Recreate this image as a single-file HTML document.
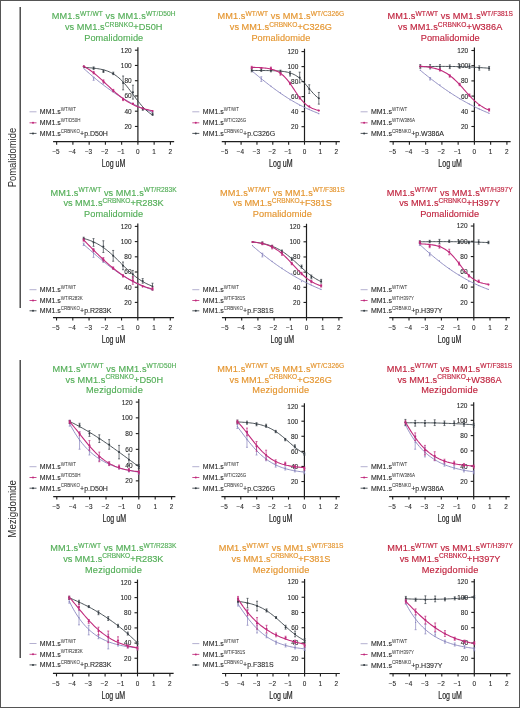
<!DOCTYPE html>
<html><head><meta charset="utf-8"><style>
html,body{margin:0;padding:0;background:#fff;}
svg{display:block;font-family:"Liberation Sans", sans-serif;will-change:transform;}
text.k{stroke:#222;stroke-width:0.22px;}
text.k2{stroke:#222;stroke-width:0.1px;}
</style></head><body>
<svg width="520" height="708" viewBox="0 0 520 708"><g>
<rect x="0.5" y="0.5" width="519" height="707" fill="none" stroke="#555" stroke-width="1"/>
<line x1="20.2" y1="7" x2="20.2" y2="308" stroke="#333" stroke-width="1.3"/>
<line x1="20.2" y1="360" x2="20.2" y2="658" stroke="#333" stroke-width="1.3"/>
<text transform="translate(16.2,157.6) rotate(-90)" font-size="10" text-anchor="middle" fill="#2a2a2a" textLength="59.5" lengthAdjust="spacingAndGlyphs">Pomalidomide</text>
<text transform="translate(16.1,508.9) rotate(-90)" font-size="10" text-anchor="middle" fill="#2a2a2a" textLength="57.5" lengthAdjust="spacingAndGlyphs">Mezigdomide</text>
<text x="113.69" y="19.3" text-anchor="middle" font-size="9.2" fill="#53ae57" stroke="#53ae57" stroke-width="0.15" textLength="123.9" lengthAdjust="spacing"><tspan>MM1.s</tspan><tspan dy="-3.4" font-size="6.6">WT/WT</tspan><tspan dy="3.4"> vs MM1.s</tspan><tspan dy="-3.4" font-size="6.6">WT/D50H</tspan></text>
<text x="113.69" y="30" text-anchor="middle" font-size="9.2" fill="#53ae57" stroke="#53ae57" stroke-width="0.15" textLength="97.6" lengthAdjust="spacing"><tspan>vs MM1.s</tspan><tspan dy="-3.4" font-size="6.6">CRBNKO</tspan><tspan dy="3.4">+D50H</tspan></text>
<text x="113.69" y="40.8" text-anchor="middle" font-size="9.2" fill="#53ae57" stroke="#53ae57" stroke-width="0.15" textLength="59" lengthAdjust="spacing"><tspan>Pomalidomide</tspan></text>
<line x1="53.08" y1="141.7" x2="174.14" y2="141.7" stroke="#1e1e1e" stroke-width="1.2"/>
<line x1="137.9" y1="47.3" x2="137.9" y2="142.3" stroke="#1e1e1e" stroke-width="1.2"/>
<line x1="56.65" y1="141.7" x2="56.65" y2="144.7" stroke="#1e1e1e" stroke-width="1.1"/>
<text x="56.05" y="154" text-anchor="middle" font-size="6.4" fill="#2a2a2a" class="k2">−5</text>
<line x1="72.9" y1="141.7" x2="72.9" y2="144.7" stroke="#1e1e1e" stroke-width="1.1"/>
<text x="72.3" y="154" text-anchor="middle" font-size="6.4" fill="#2a2a2a" class="k2">−4</text>
<line x1="89.15" y1="141.7" x2="89.15" y2="144.7" stroke="#1e1e1e" stroke-width="1.1"/>
<text x="88.55" y="154" text-anchor="middle" font-size="6.4" fill="#2a2a2a" class="k2">−3</text>
<line x1="105.4" y1="141.7" x2="105.4" y2="144.7" stroke="#1e1e1e" stroke-width="1.1"/>
<text x="104.8" y="154" text-anchor="middle" font-size="6.4" fill="#2a2a2a" class="k2">−2</text>
<line x1="121.65" y1="141.7" x2="121.65" y2="144.7" stroke="#1e1e1e" stroke-width="1.1"/>
<text x="121.05" y="154" text-anchor="middle" font-size="6.4" fill="#2a2a2a" class="k2">−1</text>
<line x1="137.9" y1="141.7" x2="137.9" y2="144.7" stroke="#1e1e1e" stroke-width="1.1"/>
<text x="137.9" y="154" text-anchor="middle" font-size="6.4" fill="#2a2a2a" class="k2">0</text>
<line x1="154.15" y1="141.7" x2="154.15" y2="144.7" stroke="#1e1e1e" stroke-width="1.1"/>
<text x="154.15" y="154" text-anchor="middle" font-size="6.4" fill="#2a2a2a" class="k2">1</text>
<line x1="170.4" y1="141.7" x2="170.4" y2="144.7" stroke="#1e1e1e" stroke-width="1.1"/>
<text x="170.4" y="154" text-anchor="middle" font-size="6.4" fill="#2a2a2a" class="k2">2</text>
<line x1="134.9" y1="126.45" x2="137.9" y2="126.45" stroke="#1e1e1e" stroke-width="1.1"/>
<text x="131.7" y="128.85" text-anchor="end" font-size="6.5" fill="#2a2a2a" class="k2">20</text>
<line x1="134.9" y1="111.2" x2="137.9" y2="111.2" stroke="#1e1e1e" stroke-width="1.1"/>
<text x="131.7" y="113.6" text-anchor="end" font-size="6.5" fill="#2a2a2a" class="k2">40</text>
<line x1="134.9" y1="95.95" x2="137.9" y2="95.95" stroke="#1e1e1e" stroke-width="1.1"/>
<text x="131.7" y="98.35" text-anchor="end" font-size="6.5" fill="#2a2a2a" class="k2">60</text>
<line x1="134.9" y1="80.7" x2="137.9" y2="80.7" stroke="#1e1e1e" stroke-width="1.1"/>
<text x="131.7" y="83.1" text-anchor="end" font-size="6.5" fill="#2a2a2a" class="k2">80</text>
<line x1="134.9" y1="65.45" x2="137.9" y2="65.45" stroke="#1e1e1e" stroke-width="1.1"/>
<text x="131.7" y="67.85" text-anchor="end" font-size="6.5" fill="#2a2a2a" class="k2">100</text>
<line x1="134.9" y1="50.2" x2="137.9" y2="50.2" stroke="#1e1e1e" stroke-width="1.1"/>
<text x="131.7" y="52.6" text-anchor="end" font-size="6.5" fill="#2a2a2a" class="k2">120</text>
<text x="113.61" y="167.1" text-anchor="middle" font-size="10" fill="#2a2a2a" class="k" textLength="23.5" lengthAdjust="spacingAndGlyphs">Log uM</text>
<line x1="29.5" y1="111.8" x2="36.5" y2="111.8" stroke="#a7a2c8" stroke-width="0.85"/>
<text x="39.8" y="114.2" font-size="7" fill="#2a2a2a" class="k2">MM1.s<tspan dy="-3.3" font-size="4.5" style="stroke-width:0">WT/WT</tspan></text>
<line x1="29.5" y1="122.8" x2="36.5" y2="122.8" stroke="#c02a7c" stroke-width="0.85"/>
<circle cx="33" cy="122.8" r="1" fill="#c02a7c"/>
<text x="39.8" y="125.2" font-size="7" fill="#2a2a2a" class="k2">MM1.s<tspan dy="-3.3" font-size="4.5" style="stroke-width:0">WT/D50H</tspan></text>
<line x1="29.5" y1="133.4" x2="36.5" y2="133.4" stroke="#363e45" stroke-width="0.85"/>
<circle cx="33" cy="133.4" r="1" fill="#363e45"/>
<text x="39.8" y="135.8" font-size="7" fill="#2a2a2a" class="k2">MM1.s<tspan dy="-3.3" font-size="4.5" style="stroke-width:0">CRBNKO</tspan><tspan dy="3.3">+p.D50H</tspan></text>
<path d="M83.79,68.53 L85.19,69.79 L86.60,71.05 L88.00,72.30 L89.41,73.53 L90.81,74.75 L92.21,75.95 L93.62,77.14 L95.02,78.32 L96.43,79.48 L97.83,80.63 L99.24,81.76 L100.64,82.87 L102.05,83.97 L103.45,85.05 L104.85,86.12 L106.26,87.17 L107.66,88.20 L109.07,89.21 L110.47,90.21 L111.88,91.19 L113.28,92.15 L114.69,93.10 L116.09,94.03 L117.49,94.94 L118.90,95.84 L120.30,96.71 L121.71,97.57 L123.11,98.42 L124.52,99.24 L125.92,100.05 L127.33,100.84 L128.73,101.62 L130.13,102.38 L131.54,103.12 L132.94,103.84 L134.35,104.55 L135.75,105.25 L137.16,105.92 L138.56,106.58 L139.97,107.23 L141.37,107.86 L142.77,108.48 L144.18,109.08 L145.58,109.67 L146.99,110.24 L148.39,110.80 L149.80,111.34 L151.20,111.87 L152.61,112.39" fill="none" stroke="#8884bd" stroke-width="0.9"/>
<circle cx="83.79" cy="68.00" r="0.6" fill="#8884bd"/>
<path d="M93.62,77.23V80.31M92.62,77.23h2M92.62,80.31h2" stroke="#8884bd" stroke-width="0.7" fill="none"/>
<circle cx="93.62" cy="78.77" r="0.6" fill="#8884bd"/>
<circle cx="103.45" cy="83.85" r="0.6" fill="#8884bd"/>
<circle cx="113.28" cy="91.54" r="0.6" fill="#8884bd"/>
<circle cx="123.11" cy="99.08" r="0.6" fill="#8884bd"/>
<circle cx="132.94" cy="104.00" r="0.6" fill="#8884bd"/>
<circle cx="142.78" cy="108.62" r="0.6" fill="#8884bd"/>
<circle cx="152.61" cy="112.15" r="0.6" fill="#8884bd"/>
<path d="M83.79,67.48 L85.19,67.54 L86.60,67.61 L88.00,67.69 L89.41,67.79 L90.81,67.89 L92.21,68.01 L93.62,68.15 L95.02,68.31 L96.43,68.49 L97.83,68.69 L99.24,68.93 L100.64,69.20 L102.05,69.50 L103.45,69.84 L104.85,70.23 L106.26,70.67 L107.66,71.17 L109.07,71.73 L110.47,72.36 L111.88,73.06 L113.28,73.85 L114.69,74.72 L116.09,75.68 L117.49,76.74 L118.90,77.89 L120.30,79.15 L121.71,80.52 L123.11,81.98 L124.52,83.54 L125.92,85.18 L127.33,86.91 L128.73,88.70 L130.13,90.55 L131.54,92.44 L132.94,94.35 L134.35,96.26 L135.75,98.15 L137.16,100.01 L138.56,101.82 L139.97,103.56 L141.37,105.22 L142.77,106.80 L144.18,108.29 L145.58,109.67 L146.99,110.95 L148.39,112.14 L149.80,113.22 L151.20,114.20 L152.61,115.09" fill="none" stroke="#363e45" stroke-width="0.9"/>
<circle cx="83.79" cy="66.46" r="1.0" fill="#363e45"/>
<path d="M93.62,66.92V69.38M92.62,66.92h2M92.62,69.38h2" stroke="#363e45" stroke-width="0.7" fill="none"/>
<circle cx="93.62" cy="68.15" r="1.0" fill="#363e45"/>
<path d="M103.45,70.00V72.46M102.45,70.00h2M102.45,72.46h2" stroke="#363e45" stroke-width="0.7" fill="none"/>
<circle cx="103.45" cy="71.23" r="1.0" fill="#363e45"/>
<path d="M113.28,72.15V74.62M112.28,72.15h2M112.28,74.62h2" stroke="#363e45" stroke-width="0.7" fill="none"/>
<circle cx="113.28" cy="73.38" r="1.0" fill="#363e45"/>
<path d="M123.11,76.00V89.85M122.11,76.00h2M122.11,89.85h2" stroke="#363e45" stroke-width="0.7" fill="none"/>
<circle cx="123.11" cy="82.92" r="1.0" fill="#363e45"/>
<path d="M132.94,85.23V99.08M131.94,85.23h2M131.94,99.08h2" stroke="#363e45" stroke-width="0.7" fill="none"/>
<circle cx="132.94" cy="92.15" r="1.0" fill="#363e45"/>
<path d="M142.78,107.85V110.31M141.78,107.85h2M141.78,110.31h2" stroke="#363e45" stroke-width="0.7" fill="none"/>
<circle cx="142.78" cy="109.08" r="1.0" fill="#363e45"/>
<path d="M152.61,112.92V115.38M151.61,112.92h2M151.61,115.38h2" stroke="#363e45" stroke-width="0.7" fill="none"/>
<circle cx="152.61" cy="114.15" r="1.0" fill="#363e45"/>
<path d="M83.79,66.28 L85.19,67.09 L86.60,67.94 L88.00,68.84 L89.41,69.79 L90.81,70.78 L92.21,71.82 L93.62,72.90 L95.02,74.02 L96.43,75.18 L97.83,76.37 L99.24,77.60 L100.64,78.85 L102.05,80.13 L103.45,81.43 L104.85,82.74 L106.26,84.06 L107.66,85.38 L109.07,86.70 L110.47,88.01 L111.88,89.30 L113.28,90.58 L114.69,91.83 L116.09,93.06 L117.49,94.25 L118.90,95.41 L120.30,96.52 L121.71,97.60 L123.11,98.63 L124.52,99.62 L125.92,100.56 L127.33,101.46 L128.73,102.31 L130.13,103.11 L131.54,103.87 L132.94,104.58 L134.35,105.25 L135.75,105.88 L137.16,106.46 L138.56,107.01 L139.97,107.52 L141.37,107.99 L142.77,108.43 L144.18,108.83 L145.58,109.21 L146.99,109.56 L148.39,109.88 L149.80,110.18 L151.20,110.45 L152.61,110.71" fill="none" stroke="#c02a7c" stroke-width="1.1"/>
<circle cx="83.79" cy="66.46" r="1.1" fill="#c02a7c"/>
<path d="M93.62,71.38V73.85M92.62,71.38h2M92.62,73.85h2" stroke="#c02a7c" stroke-width="0.7" fill="none"/>
<circle cx="93.62" cy="72.62" r="1.1" fill="#c02a7c"/>
<path d="M103.45,79.85V82.92M102.45,79.85h2M102.45,82.92h2" stroke="#c02a7c" stroke-width="0.7" fill="none"/>
<circle cx="103.45" cy="81.38" r="1.1" fill="#c02a7c"/>
<path d="M113.28,89.38V91.85M112.28,89.38h2M112.28,91.85h2" stroke="#c02a7c" stroke-width="0.7" fill="none"/>
<circle cx="113.28" cy="90.62" r="1.1" fill="#c02a7c"/>
<path d="M123.11,98.15V100.62M122.11,98.15h2M122.11,100.62h2" stroke="#c02a7c" stroke-width="0.7" fill="none"/>
<circle cx="123.11" cy="99.38" r="1.1" fill="#c02a7c"/>
<circle cx="132.94" cy="103.69" r="1.1" fill="#c02a7c"/>
<circle cx="142.78" cy="108.31" r="1.1" fill="#c02a7c"/>
<circle cx="152.61" cy="111.08" r="1.1" fill="#c02a7c"/>
<text x="280.88" y="19.3" text-anchor="middle" font-size="9.2" fill="#e4952f" stroke="#e4952f" stroke-width="0.15" textLength="126.7" lengthAdjust="spacing"><tspan>MM1.s</tspan><tspan dy="-3.4" font-size="6.6">WT/WT</tspan><tspan dy="3.4"> vs MM1.s</tspan><tspan dy="-3.4" font-size="6.6">WT/C326G</tspan></text>
<text x="280.88" y="30" text-anchor="middle" font-size="9.2" fill="#e4952f" stroke="#e4952f" stroke-width="0.15" textLength="102.2" lengthAdjust="spacing"><tspan>vs MM1.s</tspan><tspan dy="-3.4" font-size="6.6">CRBNKO</tspan><tspan dy="3.4">+C326G</tspan></text>
<text x="280.88" y="40.8" text-anchor="middle" font-size="9.2" fill="#e4952f" stroke="#e4952f" stroke-width="0.15" textLength="59" lengthAdjust="spacing"><tspan>Pomalidomide</tspan></text>
<line x1="221.76" y1="141.7" x2="339.85" y2="141.7" stroke="#1e1e1e" stroke-width="1.2"/>
<line x1="304.5" y1="48.73" x2="304.5" y2="142.3" stroke="#1e1e1e" stroke-width="1.2"/>
<line x1="225.25" y1="141.7" x2="225.25" y2="144.7" stroke="#1e1e1e" stroke-width="1.1"/>
<text x="224.65" y="154" text-anchor="middle" font-size="6.4" fill="#2a2a2a" class="k2">−5</text>
<line x1="241.1" y1="141.7" x2="241.1" y2="144.7" stroke="#1e1e1e" stroke-width="1.1"/>
<text x="240.5" y="154" text-anchor="middle" font-size="6.4" fill="#2a2a2a" class="k2">−4</text>
<line x1="256.95" y1="141.7" x2="256.95" y2="144.7" stroke="#1e1e1e" stroke-width="1.1"/>
<text x="256.35" y="154" text-anchor="middle" font-size="6.4" fill="#2a2a2a" class="k2">−3</text>
<line x1="272.8" y1="141.7" x2="272.8" y2="144.7" stroke="#1e1e1e" stroke-width="1.1"/>
<text x="272.2" y="154" text-anchor="middle" font-size="6.4" fill="#2a2a2a" class="k2">−2</text>
<line x1="288.65" y1="141.7" x2="288.65" y2="144.7" stroke="#1e1e1e" stroke-width="1.1"/>
<text x="288.05" y="154" text-anchor="middle" font-size="6.4" fill="#2a2a2a" class="k2">−1</text>
<line x1="304.5" y1="141.7" x2="304.5" y2="144.7" stroke="#1e1e1e" stroke-width="1.1"/>
<text x="304.5" y="154" text-anchor="middle" font-size="6.4" fill="#2a2a2a" class="k2">0</text>
<line x1="320.35" y1="141.7" x2="320.35" y2="144.7" stroke="#1e1e1e" stroke-width="1.1"/>
<text x="320.35" y="154" text-anchor="middle" font-size="6.4" fill="#2a2a2a" class="k2">1</text>
<line x1="336.2" y1="141.7" x2="336.2" y2="144.7" stroke="#1e1e1e" stroke-width="1.1"/>
<text x="336.2" y="154" text-anchor="middle" font-size="6.4" fill="#2a2a2a" class="k2">2</text>
<line x1="301.5" y1="126.68" x2="304.5" y2="126.68" stroke="#1e1e1e" stroke-width="1.1"/>
<text x="298.3" y="129.08" text-anchor="end" font-size="6.5" fill="#2a2a2a" class="k2">20</text>
<line x1="301.5" y1="111.66" x2="304.5" y2="111.66" stroke="#1e1e1e" stroke-width="1.1"/>
<text x="298.3" y="114.06" text-anchor="end" font-size="6.5" fill="#2a2a2a" class="k2">40</text>
<line x1="301.5" y1="96.64" x2="304.5" y2="96.64" stroke="#1e1e1e" stroke-width="1.1"/>
<text x="298.3" y="99.04" text-anchor="end" font-size="6.5" fill="#2a2a2a" class="k2">60</text>
<line x1="301.5" y1="81.62" x2="304.5" y2="81.62" stroke="#1e1e1e" stroke-width="1.1"/>
<text x="298.3" y="84.02" text-anchor="end" font-size="6.5" fill="#2a2a2a" class="k2">80</text>
<line x1="301.5" y1="66.6" x2="304.5" y2="66.6" stroke="#1e1e1e" stroke-width="1.1"/>
<text x="298.3" y="69" text-anchor="end" font-size="6.5" fill="#2a2a2a" class="k2">100</text>
<line x1="301.5" y1="51.58" x2="304.5" y2="51.58" stroke="#1e1e1e" stroke-width="1.1"/>
<text x="298.3" y="53.98" text-anchor="end" font-size="6.5" fill="#2a2a2a" class="k2">120</text>
<text x="280.8" y="167.1" text-anchor="middle" font-size="10" fill="#2a2a2a" class="k" textLength="23.5" lengthAdjust="spacingAndGlyphs">Log uM</text>
<line x1="192.3" y1="111.8" x2="199.3" y2="111.8" stroke="#a7a2c8" stroke-width="0.85"/>
<text x="202.8" y="114.2" font-size="7" fill="#2a2a2a" class="k2">MM1.s<tspan dy="-3.3" font-size="4.5" style="stroke-width:0">WT/WT</tspan></text>
<line x1="192.3" y1="122.8" x2="199.3" y2="122.8" stroke="#c02a7c" stroke-width="0.85"/>
<circle cx="195.8" cy="122.8" r="1" fill="#c02a7c"/>
<text x="202.8" y="125.2" font-size="7" fill="#2a2a2a" class="k2">MM1.s<tspan dy="-3.3" font-size="4.5" style="stroke-width:0">WT/C326G</tspan></text>
<line x1="192.3" y1="133.4" x2="199.3" y2="133.4" stroke="#363e45" stroke-width="0.85"/>
<circle cx="195.8" cy="133.4" r="1" fill="#363e45"/>
<text x="202.8" y="135.8" font-size="7" fill="#2a2a2a" class="k2">MM1.s<tspan dy="-3.3" font-size="4.5" style="stroke-width:0">CRBNKO</tspan><tspan dy="3.3">+p.C326G</tspan></text>
<path d="M251.72,70.73 L253.09,71.88 L254.46,73.04 L255.83,74.18 L257.20,75.32 L258.57,76.46 L259.94,77.59 L261.31,78.71 L262.68,79.82 L264.05,80.92 L265.42,82.01 L266.79,83.09 L268.16,84.16 L269.53,85.22 L270.90,86.27 L272.27,87.31 L273.64,88.33 L275.01,89.34 L276.38,90.34 L277.75,91.32 L279.12,92.29 L280.49,93.24 L281.86,94.18 L283.23,95.10 L284.60,96.01 L285.97,96.90 L287.34,97.78 L288.71,98.64 L290.08,99.48 L291.45,100.31 L292.82,101.12 L294.19,101.91 L295.56,102.69 L296.93,103.46 L298.30,104.20 L299.67,104.93 L301.04,105.65 L302.41,106.34 L303.78,107.03 L305.15,107.69 L306.52,108.34 L307.89,108.98 L309.25,109.60 L310.62,110.20 L311.99,110.79 L313.36,111.36 L314.73,111.92 L316.10,112.46 L317.47,112.99 L318.84,113.51" fill="none" stroke="#8884bd" stroke-width="0.9"/>
<circle cx="251.72" cy="70.62" r="0.6" fill="#8884bd"/>
<path d="M261.31,76.77V81.38M260.31,76.77h2M260.31,81.38h2" stroke="#8884bd" stroke-width="0.7" fill="none"/>
<circle cx="261.31" cy="79.08" r="0.6" fill="#8884bd"/>
<circle cx="270.90" cy="86.00" r="0.6" fill="#8884bd"/>
<circle cx="280.49" cy="92.92" r="0.6" fill="#8884bd"/>
<circle cx="290.08" cy="99.85" r="0.6" fill="#8884bd"/>
<circle cx="299.67" cy="105.23" r="0.6" fill="#8884bd"/>
<circle cx="309.25" cy="109.08" r="0.6" fill="#8884bd"/>
<circle cx="318.84" cy="113.69" r="0.6" fill="#8884bd"/>
<path d="M251.72,70.48 L253.09,70.48 L254.46,70.48 L255.83,70.49 L257.20,70.49 L258.57,70.50 L259.94,70.50 L261.31,70.51 L262.68,70.52 L264.05,70.53 L265.42,70.55 L266.79,70.56 L268.16,70.59 L269.53,70.61 L270.90,70.64 L272.27,70.68 L273.64,70.72 L275.01,70.78 L276.38,70.84 L277.75,70.92 L279.12,71.02 L280.49,71.13 L281.86,71.27 L283.23,71.44 L284.60,71.64 L285.97,71.88 L287.34,72.16 L288.71,72.50 L290.08,72.91 L291.45,73.38 L292.82,73.94 L294.19,74.59 L295.56,75.34 L296.93,76.20 L298.30,77.18 L299.67,78.28 L301.04,79.50 L302.41,80.84 L303.78,82.29 L305.15,83.82 L306.52,85.42 L307.89,87.06 L309.25,88.72 L310.62,90.35 L311.99,91.93 L313.36,93.44 L314.73,94.86 L316.10,96.16 L317.47,97.35 L318.84,98.41" fill="none" stroke="#363e45" stroke-width="0.9"/>
<path d="M251.72,68.77V71.85M250.72,68.77h2M250.72,71.85h2" stroke="#363e45" stroke-width="0.7" fill="none"/>
<circle cx="251.72" cy="70.31" r="1.0" fill="#363e45"/>
<path d="M261.31,68.92V71.38M260.31,68.92h2M260.31,71.38h2" stroke="#363e45" stroke-width="0.7" fill="none"/>
<circle cx="261.31" cy="70.15" r="1.0" fill="#363e45"/>
<path d="M270.90,69.38V71.85M269.90,69.38h2M269.90,71.85h2" stroke="#363e45" stroke-width="0.7" fill="none"/>
<circle cx="270.90" cy="70.62" r="1.0" fill="#363e45"/>
<path d="M280.49,70.15V72.62M279.49,70.15h2M279.49,72.62h2" stroke="#363e45" stroke-width="0.7" fill="none"/>
<circle cx="280.49" cy="71.38" r="1.0" fill="#363e45"/>
<path d="M290.08,71.38V76.00M289.08,71.38h2M289.08,76.00h2" stroke="#363e45" stroke-width="0.7" fill="none"/>
<circle cx="290.08" cy="73.69" r="1.0" fill="#363e45"/>
<path d="M299.67,72.15V82.92M298.67,72.15h2M298.67,82.92h2" stroke="#363e45" stroke-width="0.7" fill="none"/>
<circle cx="299.67" cy="77.54" r="1.0" fill="#363e45"/>
<path d="M309.25,84.77V93.38M308.25,84.77h2M308.25,93.38h2" stroke="#363e45" stroke-width="0.7" fill="none"/>
<circle cx="309.25" cy="89.08" r="1.0" fill="#363e45"/>
<path d="M318.84,92.46V104.15M317.84,92.46h2M317.84,104.15h2" stroke="#363e45" stroke-width="0.7" fill="none"/>
<circle cx="318.84" cy="98.31" r="1.0" fill="#363e45"/>
<path d="M251.72,67.36 L253.09,67.39 L254.46,67.42 L255.83,67.46 L257.20,67.51 L258.57,67.57 L259.94,67.65 L261.31,67.73 L262.68,67.84 L264.05,67.96 L265.42,68.11 L266.79,68.29 L268.16,68.50 L269.53,68.75 L270.90,69.05 L272.27,69.41 L273.64,69.83 L275.01,70.33 L276.38,70.91 L277.75,71.59 L279.12,72.38 L280.49,73.29 L281.86,74.33 L283.23,75.52 L284.60,76.85 L285.97,78.32 L287.34,79.95 L288.71,81.70 L290.08,83.58 L291.45,85.55 L292.82,87.59 L294.19,89.66 L295.56,91.73 L296.93,93.77 L298.30,95.73 L299.67,97.60 L301.04,99.34 L302.41,100.95 L303.78,102.42 L305.15,103.73 L306.52,104.90 L307.89,105.93 L309.25,106.83 L310.62,107.61 L311.99,108.28 L313.36,108.86 L314.73,109.34 L316.10,109.76 L317.47,110.11 L318.84,110.41" fill="none" stroke="#c02a7c" stroke-width="1.1"/>
<path d="M251.72,66.31V68.77M250.72,66.31h2M250.72,68.77h2" stroke="#c02a7c" stroke-width="0.7" fill="none"/>
<circle cx="251.72" cy="67.54" r="1.1" fill="#c02a7c"/>
<circle cx="261.31" cy="68.00" r="1.1" fill="#c02a7c"/>
<path d="M270.90,67.08V69.54M269.90,67.08h2M269.90,69.54h2" stroke="#c02a7c" stroke-width="0.7" fill="none"/>
<circle cx="270.90" cy="68.31" r="1.1" fill="#c02a7c"/>
<path d="M280.49,72.15V75.23M279.49,72.15h2M279.49,75.23h2" stroke="#c02a7c" stroke-width="0.7" fill="none"/>
<circle cx="280.49" cy="73.69" r="1.1" fill="#c02a7c"/>
<path d="M290.08,82.15V84.62M289.08,82.15h2M289.08,84.62h2" stroke="#c02a7c" stroke-width="0.7" fill="none"/>
<circle cx="290.08" cy="83.38" r="1.1" fill="#c02a7c"/>
<path d="M299.67,96.62V99.08M298.67,96.62h2M298.67,99.08h2" stroke="#c02a7c" stroke-width="0.7" fill="none"/>
<circle cx="299.67" cy="97.85" r="1.1" fill="#c02a7c"/>
<circle cx="309.25" cy="106.46" r="1.1" fill="#c02a7c"/>
<circle cx="318.84" cy="110.62" r="1.1" fill="#c02a7c"/>
<text x="450.19" y="19.3" text-anchor="middle" font-size="9.2" fill="#c0243f" stroke="#c0243f" stroke-width="0.15" textLength="125.4" lengthAdjust="spacing"><tspan>MM1.s</tspan><tspan dy="-3.4" font-size="6.6">WT/WT</tspan><tspan dy="3.4"> vs MM1.s</tspan><tspan dy="-3.4" font-size="6.6">WT/F381S</tspan></text>
<text x="450.19" y="30" text-anchor="middle" font-size="9.2" fill="#c0243f" stroke="#c0243f" stroke-width="0.15" textLength="104.2" lengthAdjust="spacing"><tspan>vs MM1.s</tspan><tspan dy="-3.4" font-size="6.6">CRBNKO</tspan><tspan dy="3.4">+W386A</tspan></text>
<text x="450.19" y="40.8" text-anchor="middle" font-size="9.2" fill="#c0243f" stroke="#c0243f" stroke-width="0.15" textLength="59" lengthAdjust="spacing"><tspan>Pomalidomide</tspan></text>
<line x1="389.57" y1="141.7" x2="510.64" y2="141.7" stroke="#1e1e1e" stroke-width="1.2"/>
<line x1="474.4" y1="47.61" x2="474.4" y2="142.3" stroke="#1e1e1e" stroke-width="1.2"/>
<line x1="393.15" y1="141.7" x2="393.15" y2="144.7" stroke="#1e1e1e" stroke-width="1.1"/>
<text x="392.55" y="154" text-anchor="middle" font-size="6.4" fill="#2a2a2a" class="k2">−5</text>
<line x1="409.4" y1="141.7" x2="409.4" y2="144.7" stroke="#1e1e1e" stroke-width="1.1"/>
<text x="408.8" y="154" text-anchor="middle" font-size="6.4" fill="#2a2a2a" class="k2">−4</text>
<line x1="425.65" y1="141.7" x2="425.65" y2="144.7" stroke="#1e1e1e" stroke-width="1.1"/>
<text x="425.05" y="154" text-anchor="middle" font-size="6.4" fill="#2a2a2a" class="k2">−3</text>
<line x1="441.9" y1="141.7" x2="441.9" y2="144.7" stroke="#1e1e1e" stroke-width="1.1"/>
<text x="441.3" y="154" text-anchor="middle" font-size="6.4" fill="#2a2a2a" class="k2">−2</text>
<line x1="458.15" y1="141.7" x2="458.15" y2="144.7" stroke="#1e1e1e" stroke-width="1.1"/>
<text x="457.55" y="154" text-anchor="middle" font-size="6.4" fill="#2a2a2a" class="k2">−1</text>
<line x1="474.4" y1="141.7" x2="474.4" y2="144.7" stroke="#1e1e1e" stroke-width="1.1"/>
<text x="474.4" y="154" text-anchor="middle" font-size="6.4" fill="#2a2a2a" class="k2">0</text>
<line x1="490.65" y1="141.7" x2="490.65" y2="144.7" stroke="#1e1e1e" stroke-width="1.1"/>
<text x="490.65" y="154" text-anchor="middle" font-size="6.4" fill="#2a2a2a" class="k2">1</text>
<line x1="506.9" y1="141.7" x2="506.9" y2="144.7" stroke="#1e1e1e" stroke-width="1.1"/>
<text x="506.9" y="154" text-anchor="middle" font-size="6.4" fill="#2a2a2a" class="k2">2</text>
<line x1="471.4" y1="126.5" x2="474.4" y2="126.5" stroke="#1e1e1e" stroke-width="1.1"/>
<text x="468.2" y="128.9" text-anchor="end" font-size="6.5" fill="#2a2a2a" class="k2">20</text>
<line x1="471.4" y1="111.3" x2="474.4" y2="111.3" stroke="#1e1e1e" stroke-width="1.1"/>
<text x="468.2" y="113.7" text-anchor="end" font-size="6.5" fill="#2a2a2a" class="k2">40</text>
<line x1="471.4" y1="96.1" x2="474.4" y2="96.1" stroke="#1e1e1e" stroke-width="1.1"/>
<text x="468.2" y="98.5" text-anchor="end" font-size="6.5" fill="#2a2a2a" class="k2">60</text>
<line x1="471.4" y1="80.9" x2="474.4" y2="80.9" stroke="#1e1e1e" stroke-width="1.1"/>
<text x="468.2" y="83.3" text-anchor="end" font-size="6.5" fill="#2a2a2a" class="k2">80</text>
<line x1="471.4" y1="65.7" x2="474.4" y2="65.7" stroke="#1e1e1e" stroke-width="1.1"/>
<text x="468.2" y="68.1" text-anchor="end" font-size="6.5" fill="#2a2a2a" class="k2">100</text>
<line x1="471.4" y1="50.5" x2="474.4" y2="50.5" stroke="#1e1e1e" stroke-width="1.1"/>
<text x="468.2" y="52.9" text-anchor="end" font-size="6.5" fill="#2a2a2a" class="k2">120</text>
<text x="450.11" y="167.1" text-anchor="middle" font-size="10" fill="#2a2a2a" class="k" textLength="23.5" lengthAdjust="spacingAndGlyphs">Log uM</text>
<line x1="360.6" y1="111.8" x2="367.6" y2="111.8" stroke="#a7a2c8" stroke-width="0.85"/>
<text x="370.9" y="114.2" font-size="7" fill="#2a2a2a" class="k2">MM1.s<tspan dy="-3.3" font-size="4.5" style="stroke-width:0">WT/WT</tspan></text>
<line x1="360.6" y1="122.8" x2="367.6" y2="122.8" stroke="#c02a7c" stroke-width="0.85"/>
<circle cx="364.1" cy="122.8" r="1" fill="#c02a7c"/>
<text x="370.9" y="125.2" font-size="7" fill="#2a2a2a" class="k2">MM1.s<tspan dy="-3.3" font-size="4.5" style="stroke-width:0">WT/W386A</tspan></text>
<line x1="360.6" y1="133.4" x2="367.6" y2="133.4" stroke="#363e45" stroke-width="0.85"/>
<circle cx="364.1" cy="133.4" r="1" fill="#363e45"/>
<text x="370.9" y="135.8" font-size="7" fill="#2a2a2a" class="k2">MM1.s<tspan dy="-3.3" font-size="4.5" style="stroke-width:0">CRBNKO</tspan><tspan dy="3.3">+p.W386A</tspan></text>
<path d="M420.29,70.31 L421.69,71.46 L423.10,72.61 L424.50,73.75 L425.91,74.87 L427.31,75.99 L428.71,77.10 L430.12,78.20 L431.52,79.29 L432.93,80.37 L434.33,81.44 L435.74,82.50 L437.14,83.54 L438.55,84.58 L439.95,85.60 L441.35,86.61 L442.76,87.61 L444.16,88.60 L445.57,89.57 L446.97,90.54 L448.38,91.48 L449.78,92.42 L451.19,93.34 L452.59,94.25 L453.99,95.15 L455.40,96.03 L456.80,96.90 L458.21,97.76 L459.61,98.60 L461.02,99.43 L462.42,100.25 L463.83,101.05 L465.23,101.84 L466.63,102.62 L468.04,103.38 L469.44,104.13 L470.85,104.87 L472.25,105.59 L473.66,106.30 L475.06,106.99 L476.47,107.68 L477.87,108.35 L479.27,109.01 L480.68,109.65 L482.08,110.29 L483.49,110.91 L484.89,111.51 L486.30,112.11 L487.70,112.69 L489.11,113.26" fill="none" stroke="#8884bd" stroke-width="0.9"/>
<circle cx="420.29" cy="70.15" r="0.6" fill="#8884bd"/>
<path d="M430.12,77.54V80.00M429.12,77.54h2M429.12,80.00h2" stroke="#8884bd" stroke-width="0.7" fill="none"/>
<circle cx="430.12" cy="78.77" r="0.6" fill="#8884bd"/>
<circle cx="439.95" cy="84.92" r="0.6" fill="#8884bd"/>
<circle cx="449.78" cy="92.62" r="0.6" fill="#8884bd"/>
<circle cx="459.61" cy="98.77" r="0.6" fill="#8884bd"/>
<circle cx="469.44" cy="104.00" r="0.6" fill="#8884bd"/>
<circle cx="479.27" cy="109.08" r="0.6" fill="#8884bd"/>
<circle cx="489.11" cy="113.23" r="0.6" fill="#8884bd"/>
<path d="M420.29,66.81 L421.69,66.76 L423.10,66.71 L424.50,66.67 L425.91,66.63 L427.31,66.60 L428.71,66.57 L430.12,66.54 L431.52,66.51 L432.93,66.49 L434.33,66.47 L435.74,66.45 L437.14,66.44 L438.55,66.43 L439.95,66.42 L441.35,66.42 L442.76,66.42 L444.16,66.42 L445.57,66.43 L446.97,66.44 L448.38,66.45 L449.78,66.47 L451.19,66.49 L452.59,66.51 L453.99,66.53 L455.40,66.56 L456.80,66.59 L458.21,66.63 L459.61,66.67 L461.02,66.71 L462.42,66.75 L463.83,66.80 L465.23,66.85 L466.63,66.91 L468.04,66.97 L469.44,67.03 L470.85,67.09 L472.25,67.16 L473.66,67.23 L475.06,67.30 L476.47,67.38 L477.87,67.46 L479.27,67.54 L480.68,67.63 L482.08,67.72 L483.49,67.81 L484.89,67.91 L486.30,68.01 L487.70,68.11 L489.11,68.22" fill="none" stroke="#363e45" stroke-width="0.9"/>
<path d="M420.29,64.62V68.31M419.29,64.62h2M419.29,68.31h2" stroke="#363e45" stroke-width="0.7" fill="none"/>
<circle cx="420.29" cy="66.46" r="1.0" fill="#363e45"/>
<path d="M430.12,64.62V68.92M429.12,64.62h2M429.12,68.92h2" stroke="#363e45" stroke-width="0.7" fill="none"/>
<circle cx="430.12" cy="66.77" r="1.0" fill="#363e45"/>
<path d="M439.95,64.62V68.92M438.95,64.62h2M438.95,68.92h2" stroke="#363e45" stroke-width="0.7" fill="none"/>
<circle cx="439.95" cy="66.77" r="1.0" fill="#363e45"/>
<path d="M449.78,64.92V68.62M448.78,64.92h2M448.78,68.62h2" stroke="#363e45" stroke-width="0.7" fill="none"/>
<circle cx="449.78" cy="66.77" r="1.0" fill="#363e45"/>
<path d="M459.61,64.62V68.31M458.61,64.62h2M458.61,68.31h2" stroke="#363e45" stroke-width="0.7" fill="none"/>
<circle cx="459.61" cy="66.46" r="1.0" fill="#363e45"/>
<path d="M469.44,63.85V68.46M468.44,63.85h2M468.44,68.46h2" stroke="#363e45" stroke-width="0.7" fill="none"/>
<circle cx="469.44" cy="66.15" r="1.0" fill="#363e45"/>
<path d="M479.27,65.85V70.15M478.27,65.85h2M478.27,70.15h2" stroke="#363e45" stroke-width="0.7" fill="none"/>
<circle cx="479.27" cy="68.00" r="1.0" fill="#363e45"/>
<path d="M489.11,66.46V70.15M488.11,66.46h2M488.11,70.15h2" stroke="#363e45" stroke-width="0.7" fill="none"/>
<circle cx="489.11" cy="68.31" r="1.0" fill="#363e45"/>
<path d="M420.29,66.23 L421.69,66.34 L423.10,66.46 L424.50,66.61 L425.91,66.77 L427.31,66.95 L428.71,67.16 L430.12,67.39 L431.52,67.65 L432.93,67.95 L434.33,68.28 L435.74,68.65 L437.14,69.07 L438.55,69.53 L439.95,70.05 L441.35,70.62 L442.76,71.26 L444.16,71.96 L445.57,72.73 L446.97,73.58 L448.38,74.50 L449.78,75.50 L451.19,76.58 L452.59,77.74 L453.99,78.98 L455.40,80.29 L456.80,81.67 L458.21,83.11 L459.61,84.61 L461.02,86.15 L462.42,87.72 L463.83,89.31 L465.23,90.91 L466.63,92.50 L468.04,94.07 L469.44,95.61 L470.85,97.10 L472.25,98.54 L473.66,99.91 L475.06,101.22 L476.47,102.45 L477.87,103.60 L479.27,104.68 L480.68,105.67 L482.08,106.59 L483.49,107.43 L484.89,108.20 L486.30,108.90 L487.70,109.53 L489.11,110.10" fill="none" stroke="#c02a7c" stroke-width="1.1"/>
<circle cx="420.29" cy="66.46" r="1.1" fill="#c02a7c"/>
<circle cx="430.12" cy="67.08" r="1.1" fill="#c02a7c"/>
<path d="M439.95,68.62V71.08M438.95,68.62h2M438.95,71.08h2" stroke="#c02a7c" stroke-width="0.7" fill="none"/>
<circle cx="439.95" cy="69.85" r="1.1" fill="#c02a7c"/>
<path d="M449.78,74.77V77.23M448.78,74.77h2M448.78,77.23h2" stroke="#c02a7c" stroke-width="0.7" fill="none"/>
<circle cx="449.78" cy="76.00" r="1.1" fill="#c02a7c"/>
<path d="M459.61,83.23V85.69M458.61,83.23h2M458.61,85.69h2" stroke="#c02a7c" stroke-width="0.7" fill="none"/>
<circle cx="459.61" cy="84.46" r="1.1" fill="#c02a7c"/>
<path d="M469.44,94.00V96.46M468.44,94.00h2M468.44,96.46h2" stroke="#c02a7c" stroke-width="0.7" fill="none"/>
<circle cx="469.44" cy="95.23" r="1.1" fill="#c02a7c"/>
<circle cx="479.27" cy="105.23" r="1.1" fill="#c02a7c"/>
<path d="M489.11,108.62V111.08M488.11,108.62h2M488.11,111.08h2" stroke="#c02a7c" stroke-width="0.7" fill="none"/>
<circle cx="489.11" cy="109.85" r="1.1" fill="#c02a7c"/>
<text x="113.59" y="195.6" text-anchor="middle" font-size="9.2" fill="#53ae57" stroke="#53ae57" stroke-width="0.15" textLength="126.2" lengthAdjust="spacing"><tspan>MM1.s</tspan><tspan dy="-3.4" font-size="6.6">WT/WT</tspan><tspan dy="3.4"> vs MM1.s</tspan><tspan dy="-3.4" font-size="6.6">WT/R283K</tspan></text>
<text x="113.59" y="206.3" text-anchor="middle" font-size="9.2" fill="#53ae57" stroke="#53ae57" stroke-width="0.15" textLength="100.3" lengthAdjust="spacing"><tspan>vs MM1.s</tspan><tspan dy="-3.4" font-size="6.6">CRBNKO</tspan><tspan dy="3.4">+R283K</tspan></text>
<text x="113.59" y="217.1" text-anchor="middle" font-size="9.2" fill="#53ae57" stroke="#53ae57" stroke-width="0.15" textLength="59" lengthAdjust="spacing"><tspan>Pomalidomide</tspan></text>
<line x1="52.98" y1="317.6" x2="174.04" y2="317.6" stroke="#1e1e1e" stroke-width="1.2"/>
<line x1="137.8" y1="223.51" x2="137.8" y2="318.2" stroke="#1e1e1e" stroke-width="1.2"/>
<line x1="56.55" y1="317.6" x2="56.55" y2="320.6" stroke="#1e1e1e" stroke-width="1.1"/>
<text x="55.95" y="329.9" text-anchor="middle" font-size="6.4" fill="#2a2a2a" class="k2">−5</text>
<line x1="72.8" y1="317.6" x2="72.8" y2="320.6" stroke="#1e1e1e" stroke-width="1.1"/>
<text x="72.2" y="329.9" text-anchor="middle" font-size="6.4" fill="#2a2a2a" class="k2">−4</text>
<line x1="89.05" y1="317.6" x2="89.05" y2="320.6" stroke="#1e1e1e" stroke-width="1.1"/>
<text x="88.45" y="329.9" text-anchor="middle" font-size="6.4" fill="#2a2a2a" class="k2">−3</text>
<line x1="105.3" y1="317.6" x2="105.3" y2="320.6" stroke="#1e1e1e" stroke-width="1.1"/>
<text x="104.7" y="329.9" text-anchor="middle" font-size="6.4" fill="#2a2a2a" class="k2">−2</text>
<line x1="121.55" y1="317.6" x2="121.55" y2="320.6" stroke="#1e1e1e" stroke-width="1.1"/>
<text x="120.95" y="329.9" text-anchor="middle" font-size="6.4" fill="#2a2a2a" class="k2">−1</text>
<line x1="137.8" y1="317.6" x2="137.8" y2="320.6" stroke="#1e1e1e" stroke-width="1.1"/>
<text x="137.8" y="329.9" text-anchor="middle" font-size="6.4" fill="#2a2a2a" class="k2">0</text>
<line x1="154.05" y1="317.6" x2="154.05" y2="320.6" stroke="#1e1e1e" stroke-width="1.1"/>
<text x="154.05" y="329.9" text-anchor="middle" font-size="6.4" fill="#2a2a2a" class="k2">1</text>
<line x1="170.3" y1="317.6" x2="170.3" y2="320.6" stroke="#1e1e1e" stroke-width="1.1"/>
<text x="170.3" y="329.9" text-anchor="middle" font-size="6.4" fill="#2a2a2a" class="k2">2</text>
<line x1="134.8" y1="302.4" x2="137.8" y2="302.4" stroke="#1e1e1e" stroke-width="1.1"/>
<text x="131.6" y="304.8" text-anchor="end" font-size="6.5" fill="#2a2a2a" class="k2">20</text>
<line x1="134.8" y1="287.2" x2="137.8" y2="287.2" stroke="#1e1e1e" stroke-width="1.1"/>
<text x="131.6" y="289.6" text-anchor="end" font-size="6.5" fill="#2a2a2a" class="k2">40</text>
<line x1="134.8" y1="272" x2="137.8" y2="272" stroke="#1e1e1e" stroke-width="1.1"/>
<text x="131.6" y="274.4" text-anchor="end" font-size="6.5" fill="#2a2a2a" class="k2">60</text>
<line x1="134.8" y1="256.8" x2="137.8" y2="256.8" stroke="#1e1e1e" stroke-width="1.1"/>
<text x="131.6" y="259.2" text-anchor="end" font-size="6.5" fill="#2a2a2a" class="k2">80</text>
<line x1="134.8" y1="241.6" x2="137.8" y2="241.6" stroke="#1e1e1e" stroke-width="1.1"/>
<text x="131.6" y="244" text-anchor="end" font-size="6.5" fill="#2a2a2a" class="k2">100</text>
<line x1="134.8" y1="226.4" x2="137.8" y2="226.4" stroke="#1e1e1e" stroke-width="1.1"/>
<text x="131.6" y="228.8" text-anchor="end" font-size="6.5" fill="#2a2a2a" class="k2">120</text>
<text x="113.51" y="343" text-anchor="middle" font-size="10" fill="#2a2a2a" class="k" textLength="23.5" lengthAdjust="spacingAndGlyphs">Log uM</text>
<line x1="29.5" y1="289.7" x2="36.5" y2="289.7" stroke="#a7a2c8" stroke-width="0.85"/>
<text x="39.8" y="292.1" font-size="7" fill="#2a2a2a" class="k2">MM1.s<tspan dy="-3.3" font-size="4.5" style="stroke-width:0">WT/WT</tspan></text>
<line x1="29.5" y1="300.5" x2="36.5" y2="300.5" stroke="#c02a7c" stroke-width="0.85"/>
<circle cx="33" cy="300.5" r="1" fill="#c02a7c"/>
<text x="39.8" y="302.9" font-size="7" fill="#2a2a2a" class="k2">MM1.s<tspan dy="-3.3" font-size="4.5" style="stroke-width:0">WT/R283K</tspan></text>
<line x1="29.5" y1="310.8" x2="36.5" y2="310.8" stroke="#363e45" stroke-width="0.85"/>
<circle cx="33" cy="310.8" r="1" fill="#363e45"/>
<text x="39.8" y="313.2" font-size="7" fill="#2a2a2a" class="k2">MM1.s<tspan dy="-3.3" font-size="4.5" style="stroke-width:0">CRBNKO</tspan><tspan dy="3.3">+p.R283K</tspan></text>
<path d="M83.69,244.50 L85.09,245.72 L86.50,246.94 L87.90,248.16 L89.31,249.39 L90.71,250.61 L92.11,251.84 L93.52,253.05 L94.92,254.27 L96.33,255.48 L97.73,256.68 L99.14,257.87 L100.54,259.05 L101.95,260.22 L103.35,261.38 L104.75,262.52 L106.16,263.65 L107.56,264.77 L108.97,265.87 L110.37,266.95 L111.78,268.01 L113.18,269.05 L114.59,270.08 L115.99,271.09 L117.39,272.07 L118.80,273.04 L120.20,273.98 L121.61,274.90 L123.01,275.80 L124.42,276.68 L125.82,277.53 L127.23,278.37 L128.63,279.18 L130.03,279.97 L131.44,280.74 L132.84,281.48 L134.25,282.20 L135.65,282.90 L137.06,283.58 L138.46,284.24 L139.87,284.88 L141.27,285.49 L142.67,286.09 L144.08,286.67 L145.48,287.22 L146.89,287.76 L148.29,288.28 L149.70,288.78 L151.10,289.26 L152.51,289.72" fill="none" stroke="#8884bd" stroke-width="0.9"/>
<path d="M83.69,243.08V245.54M82.69,243.08h2M82.69,245.54h2" stroke="#8884bd" stroke-width="0.7" fill="none"/>
<circle cx="83.69" cy="244.31" r="0.6" fill="#8884bd"/>
<path d="M93.52,249.69V257.38M92.52,249.69h2M92.52,257.38h2" stroke="#8884bd" stroke-width="0.7" fill="none"/>
<circle cx="93.52" cy="253.54" r="0.6" fill="#8884bd"/>
<path d="M103.35,260.00V262.46M102.35,260.00h2M102.35,262.46h2" stroke="#8884bd" stroke-width="0.7" fill="none"/>
<circle cx="103.35" cy="261.23" r="0.6" fill="#8884bd"/>
<circle cx="113.18" cy="268.62" r="0.6" fill="#8884bd"/>
<circle cx="123.01" cy="275.85" r="0.6" fill="#8884bd"/>
<circle cx="132.84" cy="282.00" r="0.6" fill="#8884bd"/>
<circle cx="142.68" cy="285.85" r="0.6" fill="#8884bd"/>
<circle cx="152.51" cy="289.69" r="0.6" fill="#8884bd"/>
<path d="M83.69,238.50 L85.09,238.88 L86.50,239.29 L87.90,239.74 L89.31,240.22 L90.71,240.75 L92.11,241.31 L93.52,241.92 L94.92,242.57 L96.33,243.28 L97.73,244.03 L99.14,244.83 L100.54,245.68 L101.95,246.59 L103.35,247.55 L104.75,248.56 L106.16,249.62 L107.56,250.73 L108.97,251.89 L110.37,253.10 L111.78,254.35 L113.18,255.64 L114.59,256.96 L115.99,258.31 L117.39,259.68 L118.80,261.07 L120.20,262.47 L121.61,263.87 L123.01,265.27 L124.42,266.66 L125.82,268.03 L127.23,269.38 L128.63,270.71 L130.03,272.00 L131.44,273.25 L132.84,274.46 L134.25,275.62 L135.65,276.74 L137.06,277.81 L138.46,278.82 L139.87,279.79 L141.27,280.70 L142.67,281.56 L144.08,282.36 L145.48,283.12 L146.89,283.82 L148.29,284.48 L149.70,285.10 L151.10,285.66 L152.51,286.19" fill="none" stroke="#363e45" stroke-width="0.9"/>
<path d="M83.69,237.23V239.69M82.69,237.23h2M82.69,239.69h2" stroke="#363e45" stroke-width="0.7" fill="none"/>
<circle cx="83.69" cy="238.46" r="1.0" fill="#363e45"/>
<path d="M93.52,238.62V246.31M92.52,238.62h2M92.52,246.31h2" stroke="#363e45" stroke-width="0.7" fill="none"/>
<circle cx="93.52" cy="242.46" r="1.0" fill="#363e45"/>
<path d="M103.35,240.77V252.46M102.35,240.77h2M102.35,252.46h2" stroke="#363e45" stroke-width="0.7" fill="none"/>
<circle cx="103.35" cy="246.62" r="1.0" fill="#363e45"/>
<path d="M113.18,250.46V261.23M112.18,250.46h2M112.18,261.23h2" stroke="#363e45" stroke-width="0.7" fill="none"/>
<circle cx="113.18" cy="255.85" r="1.0" fill="#363e45"/>
<path d="M123.01,262.00V269.69M122.01,262.00h2M122.01,269.69h2" stroke="#363e45" stroke-width="0.7" fill="none"/>
<circle cx="123.01" cy="265.85" r="1.0" fill="#363e45"/>
<path d="M132.84,270.46V278.15M131.84,270.46h2M131.84,278.15h2" stroke="#363e45" stroke-width="0.7" fill="none"/>
<circle cx="132.84" cy="274.31" r="1.0" fill="#363e45"/>
<path d="M142.68,278.62V283.23M141.68,278.62h2M141.68,283.23h2" stroke="#363e45" stroke-width="0.7" fill="none"/>
<circle cx="142.68" cy="280.92" r="1.0" fill="#363e45"/>
<path d="M152.51,283.23V290.00M151.51,283.23h2M151.51,290.00h2" stroke="#363e45" stroke-width="0.7" fill="none"/>
<circle cx="152.51" cy="286.62" r="1.0" fill="#363e45"/>
<path d="M83.69,240.05 L85.09,241.47 L86.50,242.89 L87.90,244.32 L89.31,245.74 L90.71,247.17 L92.11,248.59 L93.52,250.00 L94.92,251.40 L96.33,252.80 L97.73,254.18 L99.14,255.55 L100.54,256.91 L101.95,258.24 L103.35,259.56 L104.75,260.86 L106.16,262.14 L107.56,263.39 L108.97,264.62 L110.37,265.83 L111.78,267.01 L113.18,268.16 L114.59,269.29 L115.99,270.38 L117.39,271.45 L118.80,272.49 L120.20,273.51 L121.61,274.49 L123.01,275.44 L124.42,276.36 L125.82,277.26 L127.23,278.12 L128.63,278.96 L130.03,279.77 L131.44,280.55 L132.84,281.30 L134.25,282.02 L135.65,282.72 L137.06,283.39 L138.46,284.04 L139.87,284.66 L141.27,285.25 L142.67,285.82 L144.08,286.37 L145.48,286.90 L146.89,287.40 L148.29,287.88 L149.70,288.34 L151.10,288.78 L152.51,289.21" fill="none" stroke="#c02a7c" stroke-width="1.1"/>
<path d="M83.69,238.77V241.23M82.69,238.77h2M82.69,241.23h2" stroke="#c02a7c" stroke-width="0.7" fill="none"/>
<circle cx="83.69" cy="240.00" r="1.1" fill="#c02a7c"/>
<path d="M93.52,248.62V251.69M92.52,248.62h2M92.52,251.69h2" stroke="#c02a7c" stroke-width="0.7" fill="none"/>
<circle cx="93.52" cy="250.15" r="1.1" fill="#c02a7c"/>
<path d="M103.35,257.54V261.23M102.35,257.54h2M102.35,261.23h2" stroke="#c02a7c" stroke-width="0.7" fill="none"/>
<circle cx="103.35" cy="259.38" r="1.1" fill="#c02a7c"/>
<path d="M113.18,266.92V269.38M112.18,266.92h2M112.18,269.38h2" stroke="#c02a7c" stroke-width="0.7" fill="none"/>
<circle cx="113.18" cy="268.15" r="1.1" fill="#c02a7c"/>
<path d="M123.01,274.62V277.08M122.01,274.62h2M122.01,277.08h2" stroke="#c02a7c" stroke-width="0.7" fill="none"/>
<circle cx="123.01" cy="275.85" r="1.1" fill="#c02a7c"/>
<path d="M132.84,276.62V284.31M131.84,276.62h2M131.84,284.31h2" stroke="#c02a7c" stroke-width="0.7" fill="none"/>
<circle cx="132.84" cy="280.46" r="1.1" fill="#c02a7c"/>
<circle cx="142.68" cy="286.62" r="1.1" fill="#c02a7c"/>
<path d="M152.51,287.69V290.15M151.51,287.69h2M151.51,290.15h2" stroke="#c02a7c" stroke-width="0.7" fill="none"/>
<circle cx="152.51" cy="288.92" r="1.1" fill="#c02a7c"/>
<text x="282.36" y="195.6" text-anchor="middle" font-size="9.2" fill="#e4952f" stroke="#e4952f" stroke-width="0.15" textLength="124.7" lengthAdjust="spacing"><tspan>MM1.s</tspan><tspan dy="-3.4" font-size="6.6">WT/WT</tspan><tspan dy="3.4"> vs MM1.s</tspan><tspan dy="-3.4" font-size="6.6">WT/F381S</tspan></text>
<text x="282.36" y="206.3" text-anchor="middle" font-size="9.2" fill="#e4952f" stroke="#e4952f" stroke-width="0.15" textLength="98.9" lengthAdjust="spacing"><tspan>vs MM1.s</tspan><tspan dy="-3.4" font-size="6.6">CRBNKO</tspan><tspan dy="3.4">+F381S</tspan></text>
<text x="282.36" y="217.1" text-anchor="middle" font-size="9.2" fill="#e4952f" stroke="#e4952f" stroke-width="0.15" textLength="59" lengthAdjust="spacing"><tspan>Pomalidomide</tspan></text>
<line x1="221.94" y1="317.6" x2="342.63" y2="317.6" stroke="#1e1e1e" stroke-width="1.2"/>
<line x1="306.5" y1="223.76" x2="306.5" y2="318.2" stroke="#1e1e1e" stroke-width="1.2"/>
<line x1="225.5" y1="317.6" x2="225.5" y2="320.6" stroke="#1e1e1e" stroke-width="1.1"/>
<text x="224.9" y="329.9" text-anchor="middle" font-size="6.4" fill="#2a2a2a" class="k2">−5</text>
<line x1="241.7" y1="317.6" x2="241.7" y2="320.6" stroke="#1e1e1e" stroke-width="1.1"/>
<text x="241.1" y="329.9" text-anchor="middle" font-size="6.4" fill="#2a2a2a" class="k2">−4</text>
<line x1="257.9" y1="317.6" x2="257.9" y2="320.6" stroke="#1e1e1e" stroke-width="1.1"/>
<text x="257.3" y="329.9" text-anchor="middle" font-size="6.4" fill="#2a2a2a" class="k2">−3</text>
<line x1="274.1" y1="317.6" x2="274.1" y2="320.6" stroke="#1e1e1e" stroke-width="1.1"/>
<text x="273.5" y="329.9" text-anchor="middle" font-size="6.4" fill="#2a2a2a" class="k2">−2</text>
<line x1="290.3" y1="317.6" x2="290.3" y2="320.6" stroke="#1e1e1e" stroke-width="1.1"/>
<text x="289.7" y="329.9" text-anchor="middle" font-size="6.4" fill="#2a2a2a" class="k2">−1</text>
<line x1="306.5" y1="317.6" x2="306.5" y2="320.6" stroke="#1e1e1e" stroke-width="1.1"/>
<text x="306.5" y="329.9" text-anchor="middle" font-size="6.4" fill="#2a2a2a" class="k2">0</text>
<line x1="322.7" y1="317.6" x2="322.7" y2="320.6" stroke="#1e1e1e" stroke-width="1.1"/>
<text x="322.7" y="329.9" text-anchor="middle" font-size="6.4" fill="#2a2a2a" class="k2">1</text>
<line x1="338.9" y1="317.6" x2="338.9" y2="320.6" stroke="#1e1e1e" stroke-width="1.1"/>
<text x="338.9" y="329.9" text-anchor="middle" font-size="6.4" fill="#2a2a2a" class="k2">2</text>
<line x1="303.5" y1="302.44" x2="306.5" y2="302.44" stroke="#1e1e1e" stroke-width="1.1"/>
<text x="300.3" y="304.84" text-anchor="end" font-size="6.5" fill="#2a2a2a" class="k2">20</text>
<line x1="303.5" y1="287.28" x2="306.5" y2="287.28" stroke="#1e1e1e" stroke-width="1.1"/>
<text x="300.3" y="289.68" text-anchor="end" font-size="6.5" fill="#2a2a2a" class="k2">40</text>
<line x1="303.5" y1="272.12" x2="306.5" y2="272.12" stroke="#1e1e1e" stroke-width="1.1"/>
<text x="300.3" y="274.52" text-anchor="end" font-size="6.5" fill="#2a2a2a" class="k2">60</text>
<line x1="303.5" y1="256.96" x2="306.5" y2="256.96" stroke="#1e1e1e" stroke-width="1.1"/>
<text x="300.3" y="259.36" text-anchor="end" font-size="6.5" fill="#2a2a2a" class="k2">80</text>
<line x1="303.5" y1="241.8" x2="306.5" y2="241.8" stroke="#1e1e1e" stroke-width="1.1"/>
<text x="300.3" y="244.2" text-anchor="end" font-size="6.5" fill="#2a2a2a" class="k2">100</text>
<line x1="303.5" y1="226.64" x2="306.5" y2="226.64" stroke="#1e1e1e" stroke-width="1.1"/>
<text x="300.3" y="229.04" text-anchor="end" font-size="6.5" fill="#2a2a2a" class="k2">120</text>
<text x="282.28" y="343" text-anchor="middle" font-size="10" fill="#2a2a2a" class="k" textLength="23.5" lengthAdjust="spacingAndGlyphs">Log uM</text>
<line x1="192.3" y1="289.7" x2="199.3" y2="289.7" stroke="#a7a2c8" stroke-width="0.85"/>
<text x="202.8" y="292.1" font-size="7" fill="#2a2a2a" class="k2">MM1.s<tspan dy="-3.3" font-size="4.5" style="stroke-width:0">WT/WT</tspan></text>
<line x1="192.3" y1="300.5" x2="199.3" y2="300.5" stroke="#c02a7c" stroke-width="0.85"/>
<circle cx="195.8" cy="300.5" r="1" fill="#c02a7c"/>
<text x="202.8" y="302.9" font-size="7" fill="#2a2a2a" class="k2">MM1.s<tspan dy="-3.3" font-size="4.5" style="stroke-width:0">WT/F381S</tspan></text>
<line x1="192.3" y1="310.8" x2="199.3" y2="310.8" stroke="#363e45" stroke-width="0.85"/>
<circle cx="195.8" cy="310.8" r="1" fill="#363e45"/>
<text x="202.8" y="313.2" font-size="7" fill="#2a2a2a" class="k2">MM1.s<tspan dy="-3.3" font-size="4.5" style="stroke-width:0">CRBNKO</tspan><tspan dy="3.3">+p.F381S</tspan></text>
<path d="M252.55,245.93 L253.95,247.13 L255.35,248.32 L256.75,249.49 L258.15,250.66 L259.55,251.81 L260.95,252.95 L262.36,254.07 L263.76,255.19 L265.16,256.29 L266.56,257.38 L267.96,258.46 L269.36,259.52 L270.76,260.57 L272.16,261.61 L273.56,262.63 L274.96,263.64 L276.36,264.64 L277.76,265.62 L279.16,266.59 L280.56,267.54 L281.96,268.49 L283.36,269.41 L284.76,270.33 L286.16,271.23 L287.56,272.12 L288.96,272.99 L290.36,273.85 L291.76,274.70 L293.16,275.53 L294.56,276.35 L295.96,277.16 L297.36,277.95 L298.76,278.73 L300.16,279.49 L301.56,280.25 L302.96,280.99 L304.36,281.72 L305.76,282.43 L307.16,283.13 L308.56,283.82 L309.96,284.50 L311.36,285.17 L312.76,285.82 L314.16,286.46 L315.56,287.09 L316.96,287.70 L318.36,288.31 L319.76,288.90 L321.16,289.49" fill="none" stroke="#8884bd" stroke-width="0.9"/>
<circle cx="252.55" cy="245.54" r="0.6" fill="#8884bd"/>
<path d="M262.36,253.23V256.92M261.36,253.23h2M261.36,256.92h2" stroke="#8884bd" stroke-width="0.7" fill="none"/>
<circle cx="262.36" cy="255.08" r="0.6" fill="#8884bd"/>
<circle cx="272.16" cy="261.23" r="0.6" fill="#8884bd"/>
<circle cx="281.96" cy="268.15" r="0.6" fill="#8884bd"/>
<circle cx="291.76" cy="273.85" r="0.6" fill="#8884bd"/>
<circle cx="301.56" cy="281.54" r="0.6" fill="#8884bd"/>
<circle cx="311.36" cy="285.08" r="0.6" fill="#8884bd"/>
<circle cx="321.16" cy="289.23" r="0.6" fill="#8884bd"/>
<path d="M252.55,241.96 L253.95,242.12 L255.35,242.29 L256.75,242.47 L258.15,242.68 L259.55,242.90 L260.95,243.15 L262.36,243.43 L263.76,243.73 L265.16,244.06 L266.56,244.42 L267.96,244.82 L269.36,245.26 L270.76,245.73 L272.16,246.25 L273.56,246.81 L274.96,247.41 L276.36,248.07 L277.76,248.78 L279.16,249.53 L280.56,250.34 L281.96,251.21 L283.36,252.13 L284.76,253.10 L286.16,254.12 L287.56,255.19 L288.96,256.31 L290.36,257.47 L291.76,258.67 L293.16,259.91 L294.56,261.16 L295.96,262.44 L297.36,263.73 L298.76,265.03 L300.16,266.33 L301.56,267.61 L302.96,268.88 L304.36,270.13 L305.76,271.34 L307.16,272.52 L308.56,273.66 L309.96,274.76 L311.36,275.81 L312.76,276.80 L314.16,277.75 L315.56,278.64 L316.96,279.48 L318.36,280.26 L319.76,280.99 L321.16,281.67" fill="none" stroke="#363e45" stroke-width="0.9"/>
<circle cx="252.55" cy="242.00" r="1.0" fill="#363e45"/>
<path d="M262.36,241.85V244.31M261.36,241.85h2M261.36,244.31h2" stroke="#363e45" stroke-width="0.7" fill="none"/>
<circle cx="262.36" cy="243.08" r="1.0" fill="#363e45"/>
<path d="M272.16,245.38V247.85M271.16,245.38h2M271.16,247.85h2" stroke="#363e45" stroke-width="0.7" fill="none"/>
<circle cx="272.16" cy="246.62" r="1.0" fill="#363e45"/>
<path d="M281.96,250.00V252.46M280.96,250.00h2M280.96,252.46h2" stroke="#363e45" stroke-width="0.7" fill="none"/>
<circle cx="281.96" cy="251.23" r="1.0" fill="#363e45"/>
<path d="M291.76,257.38V260.46M290.76,257.38h2M290.76,260.46h2" stroke="#363e45" stroke-width="0.7" fill="none"/>
<circle cx="291.76" cy="258.92" r="1.0" fill="#363e45"/>
<path d="M301.56,265.08V268.15M300.56,265.08h2M300.56,268.15h2" stroke="#363e45" stroke-width="0.7" fill="none"/>
<circle cx="301.56" cy="266.62" r="1.0" fill="#363e45"/>
<path d="M311.36,275.08V278.77M310.36,275.08h2M310.36,278.77h2" stroke="#363e45" stroke-width="0.7" fill="none"/>
<circle cx="311.36" cy="276.92" r="1.0" fill="#363e45"/>
<path d="M321.16,279.38V283.08M320.16,279.38h2M320.16,283.08h2" stroke="#363e45" stroke-width="0.7" fill="none"/>
<circle cx="321.16" cy="281.23" r="1.0" fill="#363e45"/>
<path d="M252.55,241.96 L253.95,242.12 L255.35,242.29 L256.75,242.50 L258.15,242.72 L259.55,242.98 L260.95,243.26 L262.36,243.58 L263.76,243.94 L265.16,244.33 L266.56,244.77 L267.96,245.26 L269.36,245.81 L270.76,246.41 L272.16,247.07 L273.56,247.79 L274.96,248.58 L276.36,249.45 L277.76,250.38 L279.16,251.39 L280.56,252.47 L281.96,253.63 L283.36,254.85 L284.76,256.14 L286.16,257.50 L287.56,258.90 L288.96,260.36 L290.36,261.85 L291.76,263.36 L293.16,264.89 L294.56,266.42 L295.96,267.94 L297.36,269.44 L298.76,270.91 L300.16,272.34 L301.56,273.71 L302.96,275.03 L304.36,276.28 L305.76,277.46 L307.16,278.57 L308.56,279.60 L309.96,280.57 L311.36,281.45 L312.76,282.27 L314.16,283.02 L315.56,283.71 L316.96,284.33 L318.36,284.89 L319.76,285.40 L321.16,285.86" fill="none" stroke="#c02a7c" stroke-width="1.1"/>
<circle cx="252.55" cy="242.00" r="1.1" fill="#c02a7c"/>
<path d="M262.36,242.31V244.77M261.36,242.31h2M261.36,244.77h2" stroke="#c02a7c" stroke-width="0.7" fill="none"/>
<circle cx="262.36" cy="243.54" r="1.1" fill="#c02a7c"/>
<path d="M272.16,245.23V248.92M271.16,245.23h2M271.16,248.92h2" stroke="#c02a7c" stroke-width="0.7" fill="none"/>
<circle cx="272.16" cy="247.08" r="1.1" fill="#c02a7c"/>
<path d="M281.96,251.69V255.38M280.96,251.69h2M280.96,255.38h2" stroke="#c02a7c" stroke-width="0.7" fill="none"/>
<circle cx="281.96" cy="253.54" r="1.1" fill="#c02a7c"/>
<path d="M291.76,262.31V264.77M290.76,262.31h2M290.76,264.77h2" stroke="#c02a7c" stroke-width="0.7" fill="none"/>
<circle cx="291.76" cy="263.54" r="1.1" fill="#c02a7c"/>
<path d="M301.56,272.31V274.77M300.56,272.31h2M300.56,274.77h2" stroke="#c02a7c" stroke-width="0.7" fill="none"/>
<circle cx="301.56" cy="273.54" r="1.1" fill="#c02a7c"/>
<path d="M311.36,280.31V282.77M310.36,280.31h2M310.36,282.77h2" stroke="#c02a7c" stroke-width="0.7" fill="none"/>
<circle cx="311.36" cy="281.54" r="1.1" fill="#c02a7c"/>
<path d="M321.16,284.62V287.08M320.16,284.62h2M320.16,287.08h2" stroke="#c02a7c" stroke-width="0.7" fill="none"/>
<circle cx="321.16" cy="285.85" r="1.1" fill="#c02a7c"/>
<text x="449.66" y="195.6" text-anchor="middle" font-size="9.2" fill="#c0243f" stroke="#c0243f" stroke-width="0.15" textLength="125.8" lengthAdjust="spacing"><tspan>MM1.s</tspan><tspan dy="-3.4" font-size="6.6">WT/WT</tspan><tspan dy="3.4"> vs MM1.s</tspan><tspan dy="-3.4" font-size="6.6">WT/H397Y</tspan></text>
<text x="449.66" y="206.3" text-anchor="middle" font-size="9.2" fill="#c0243f" stroke="#c0243f" stroke-width="0.15" textLength="100.8" lengthAdjust="spacing"><tspan>vs MM1.s</tspan><tspan dy="-3.4" font-size="6.6">CRBNKO</tspan><tspan dy="3.4">+H397Y</tspan></text>
<text x="449.66" y="217.1" text-anchor="middle" font-size="9.2" fill="#c0243f" stroke="#c0243f" stroke-width="0.15" textLength="59" lengthAdjust="spacing"><tspan>Pomalidomide</tspan></text>
<line x1="389.24" y1="317.6" x2="509.93" y2="317.6" stroke="#1e1e1e" stroke-width="1.2"/>
<line x1="473.8" y1="223.14" x2="473.8" y2="318.2" stroke="#1e1e1e" stroke-width="1.2"/>
<line x1="392.8" y1="317.6" x2="392.8" y2="320.6" stroke="#1e1e1e" stroke-width="1.1"/>
<text x="392.2" y="329.9" text-anchor="middle" font-size="6.4" fill="#2a2a2a" class="k2">−5</text>
<line x1="409" y1="317.6" x2="409" y2="320.6" stroke="#1e1e1e" stroke-width="1.1"/>
<text x="408.4" y="329.9" text-anchor="middle" font-size="6.4" fill="#2a2a2a" class="k2">−4</text>
<line x1="425.2" y1="317.6" x2="425.2" y2="320.6" stroke="#1e1e1e" stroke-width="1.1"/>
<text x="424.6" y="329.9" text-anchor="middle" font-size="6.4" fill="#2a2a2a" class="k2">−3</text>
<line x1="441.4" y1="317.6" x2="441.4" y2="320.6" stroke="#1e1e1e" stroke-width="1.1"/>
<text x="440.8" y="329.9" text-anchor="middle" font-size="6.4" fill="#2a2a2a" class="k2">−2</text>
<line x1="457.6" y1="317.6" x2="457.6" y2="320.6" stroke="#1e1e1e" stroke-width="1.1"/>
<text x="457" y="329.9" text-anchor="middle" font-size="6.4" fill="#2a2a2a" class="k2">−1</text>
<line x1="473.8" y1="317.6" x2="473.8" y2="320.6" stroke="#1e1e1e" stroke-width="1.1"/>
<text x="473.8" y="329.9" text-anchor="middle" font-size="6.4" fill="#2a2a2a" class="k2">0</text>
<line x1="490" y1="317.6" x2="490" y2="320.6" stroke="#1e1e1e" stroke-width="1.1"/>
<text x="490" y="329.9" text-anchor="middle" font-size="6.4" fill="#2a2a2a" class="k2">1</text>
<line x1="506.2" y1="317.6" x2="506.2" y2="320.6" stroke="#1e1e1e" stroke-width="1.1"/>
<text x="506.2" y="329.9" text-anchor="middle" font-size="6.4" fill="#2a2a2a" class="k2">2</text>
<line x1="470.8" y1="302.34" x2="473.8" y2="302.34" stroke="#1e1e1e" stroke-width="1.1"/>
<text x="467.6" y="304.74" text-anchor="end" font-size="6.5" fill="#2a2a2a" class="k2">20</text>
<line x1="470.8" y1="287.08" x2="473.8" y2="287.08" stroke="#1e1e1e" stroke-width="1.1"/>
<text x="467.6" y="289.48" text-anchor="end" font-size="6.5" fill="#2a2a2a" class="k2">40</text>
<line x1="470.8" y1="271.82" x2="473.8" y2="271.82" stroke="#1e1e1e" stroke-width="1.1"/>
<text x="467.6" y="274.22" text-anchor="end" font-size="6.5" fill="#2a2a2a" class="k2">60</text>
<line x1="470.8" y1="256.56" x2="473.8" y2="256.56" stroke="#1e1e1e" stroke-width="1.1"/>
<text x="467.6" y="258.96" text-anchor="end" font-size="6.5" fill="#2a2a2a" class="k2">80</text>
<line x1="470.8" y1="241.3" x2="473.8" y2="241.3" stroke="#1e1e1e" stroke-width="1.1"/>
<text x="467.6" y="243.7" text-anchor="end" font-size="6.5" fill="#2a2a2a" class="k2">100</text>
<line x1="470.8" y1="226.04" x2="473.8" y2="226.04" stroke="#1e1e1e" stroke-width="1.1"/>
<text x="467.6" y="228.44" text-anchor="end" font-size="6.5" fill="#2a2a2a" class="k2">120</text>
<text x="449.58" y="343" text-anchor="middle" font-size="10" fill="#2a2a2a" class="k" textLength="23.5" lengthAdjust="spacingAndGlyphs">Log uM</text>
<line x1="360.6" y1="289.7" x2="367.6" y2="289.7" stroke="#a7a2c8" stroke-width="0.85"/>
<text x="370.9" y="292.1" font-size="7" fill="#2a2a2a" class="k2">MM1.s<tspan dy="-3.3" font-size="4.5" style="stroke-width:0">WT/WT</tspan></text>
<line x1="360.6" y1="300.5" x2="367.6" y2="300.5" stroke="#c02a7c" stroke-width="0.85"/>
<circle cx="364.1" cy="300.5" r="1" fill="#c02a7c"/>
<text x="370.9" y="302.9" font-size="7" fill="#2a2a2a" class="k2">MM1.s<tspan dy="-3.3" font-size="4.5" style="stroke-width:0">WT/H397Y</tspan></text>
<line x1="360.6" y1="310.8" x2="367.6" y2="310.8" stroke="#363e45" stroke-width="0.85"/>
<circle cx="364.1" cy="310.8" r="1" fill="#363e45"/>
<text x="370.9" y="313.2" font-size="7" fill="#2a2a2a" class="k2">MM1.s<tspan dy="-3.3" font-size="4.5" style="stroke-width:0">CRBNKO</tspan><tspan dy="3.3">+p.H397Y</tspan></text>
<path d="M419.85,244.63 L421.25,245.92 L422.65,247.19 L424.05,248.46 L425.45,249.71 L426.85,250.95 L428.25,252.18 L429.66,253.39 L431.06,254.59 L432.46,255.78 L433.86,256.95 L435.26,258.11 L436.66,259.25 L438.06,260.37 L439.46,261.48 L440.86,262.58 L442.26,263.65 L443.66,264.71 L445.06,265.75 L446.46,266.78 L447.86,267.79 L449.26,268.78 L450.66,269.75 L452.06,270.70 L453.46,271.64 L454.86,272.56 L456.26,273.46 L457.66,274.34 L459.06,275.21 L460.46,276.06 L461.86,276.89 L463.26,277.70 L464.66,278.49 L466.06,279.27 L467.46,280.03 L468.86,280.77 L470.26,281.50 L471.66,282.20 L473.06,282.90 L474.46,283.57 L475.86,284.23 L477.26,284.87 L478.66,285.50 L480.06,286.11 L481.46,286.71 L482.86,287.29 L484.26,287.85 L485.66,288.41 L487.06,288.94 L488.46,289.47" fill="none" stroke="#8884bd" stroke-width="0.9"/>
<path d="M419.85,243.08V245.54M418.85,243.08h2M418.85,245.54h2" stroke="#8884bd" stroke-width="0.7" fill="none"/>
<circle cx="419.85" cy="244.31" r="0.6" fill="#8884bd"/>
<path d="M429.66,252.77V255.85M428.66,252.77h2M428.66,255.85h2" stroke="#8884bd" stroke-width="0.7" fill="none"/>
<circle cx="429.66" cy="254.31" r="0.6" fill="#8884bd"/>
<circle cx="439.46" cy="260.92" r="0.6" fill="#8884bd"/>
<circle cx="449.26" cy="268.62" r="0.6" fill="#8884bd"/>
<circle cx="459.06" cy="274.77" r="0.6" fill="#8884bd"/>
<circle cx="468.86" cy="281.54" r="0.6" fill="#8884bd"/>
<circle cx="478.66" cy="285.54" r="0.6" fill="#8884bd"/>
<circle cx="488.46" cy="289.23" r="0.6" fill="#8884bd"/>
<path d="M419.85,241.80 L421.25,241.78 L422.65,241.76 L424.05,241.74 L425.45,241.72 L426.85,241.70 L428.25,241.69 L429.66,241.67 L431.06,241.66 L432.46,241.65 L433.86,241.64 L435.26,241.64 L436.66,241.63 L438.06,241.63 L439.46,241.62 L440.86,241.62 L442.26,241.62 L443.66,241.63 L445.06,241.63 L446.46,241.64 L447.86,241.64 L449.26,241.65 L450.66,241.66 L452.06,241.68 L453.46,241.69 L454.86,241.71 L456.26,241.72 L457.66,241.74 L459.06,241.76 L460.46,241.78 L461.86,241.81 L463.26,241.83 L464.66,241.86 L466.06,241.89 L467.46,241.92 L468.86,241.95 L470.26,241.98 L471.66,242.02 L473.06,242.05 L474.46,242.09 L475.86,242.13 L477.26,242.17 L478.66,242.21 L480.06,242.26 L481.46,242.30 L482.86,242.35 L484.26,242.40 L485.66,242.45 L487.06,242.50 L488.46,242.56" fill="none" stroke="#363e45" stroke-width="0.9"/>
<path d="M419.85,240.77V243.23M418.85,240.77h2M418.85,243.23h2" stroke="#363e45" stroke-width="0.7" fill="none"/>
<circle cx="419.85" cy="242.00" r="1.0" fill="#363e45"/>
<path d="M429.66,240.31V242.77M428.66,240.31h2M428.66,242.77h2" stroke="#363e45" stroke-width="0.7" fill="none"/>
<circle cx="429.66" cy="241.54" r="1.0" fill="#363e45"/>
<path d="M439.46,239.38V243.69M438.46,239.38h2M438.46,243.69h2" stroke="#363e45" stroke-width="0.7" fill="none"/>
<circle cx="439.46" cy="241.54" r="1.0" fill="#363e45"/>
<path d="M449.26,240.00V242.46M448.26,240.00h2M448.26,242.46h2" stroke="#363e45" stroke-width="0.7" fill="none"/>
<circle cx="449.26" cy="241.23" r="1.0" fill="#363e45"/>
<path d="M459.06,240.77V243.23M458.06,240.77h2M458.06,243.23h2" stroke="#363e45" stroke-width="0.7" fill="none"/>
<circle cx="459.06" cy="242.00" r="1.0" fill="#363e45"/>
<path d="M468.86,241.23V243.69M467.86,241.23h2M467.86,243.69h2" stroke="#363e45" stroke-width="0.7" fill="none"/>
<circle cx="468.86" cy="242.46" r="1.0" fill="#363e45"/>
<path d="M478.66,239.85V244.15M477.66,239.85h2M477.66,244.15h2" stroke="#363e45" stroke-width="0.7" fill="none"/>
<circle cx="478.66" cy="242.00" r="1.0" fill="#363e45"/>
<path d="M488.46,241.23V243.69M487.46,241.23h2M487.46,243.69h2" stroke="#363e45" stroke-width="0.7" fill="none"/>
<circle cx="488.46" cy="242.46" r="1.0" fill="#363e45"/>
<path d="M419.85,243.86 L421.25,243.91 L422.65,243.97 L424.05,244.05 L425.45,244.13 L426.85,244.24 L428.25,244.36 L429.66,244.51 L431.06,244.68 L432.46,244.88 L433.86,245.12 L435.26,245.40 L436.66,245.74 L438.06,246.13 L439.46,246.58 L440.86,247.11 L442.26,247.73 L443.66,248.43 L445.06,249.25 L446.46,250.17 L447.86,251.21 L449.26,252.37 L450.66,253.66 L452.06,255.08 L453.46,256.61 L454.86,258.24 L456.26,259.97 L457.66,261.76 L459.06,263.59 L460.46,265.44 L461.86,267.27 L463.26,269.06 L464.66,270.79 L466.06,272.42 L467.46,273.95 L468.86,275.36 L470.26,276.64 L471.66,277.80 L473.06,278.84 L474.46,279.76 L475.86,280.57 L477.26,281.27 L478.66,281.88 L480.06,282.41 L481.46,282.86 L482.86,283.25 L484.26,283.58 L485.66,283.87 L487.06,284.10 L488.46,284.31" fill="none" stroke="#c02a7c" stroke-width="1.1"/>
<path d="M419.85,241.23V243.69M418.85,241.23h2M418.85,243.69h2" stroke="#c02a7c" stroke-width="0.7" fill="none"/>
<circle cx="419.85" cy="242.46" r="1.1" fill="#c02a7c"/>
<path d="M429.66,244.62V247.69M428.66,244.62h2M428.66,247.69h2" stroke="#c02a7c" stroke-width="0.7" fill="none"/>
<circle cx="429.66" cy="246.15" r="1.1" fill="#c02a7c"/>
<path d="M439.46,245.08V248.15M438.46,245.08h2M438.46,248.15h2" stroke="#c02a7c" stroke-width="0.7" fill="none"/>
<circle cx="439.46" cy="246.62" r="1.1" fill="#c02a7c"/>
<path d="M449.26,249.23V254.77M448.26,249.23h2M448.26,254.77h2" stroke="#c02a7c" stroke-width="0.7" fill="none"/>
<circle cx="449.26" cy="252.00" r="1.1" fill="#c02a7c"/>
<path d="M459.06,262.00V265.08M458.06,262.00h2M458.06,265.08h2" stroke="#c02a7c" stroke-width="0.7" fill="none"/>
<circle cx="459.06" cy="263.54" r="1.1" fill="#c02a7c"/>
<path d="M468.86,274.62V277.08M467.86,274.62h2M467.86,277.08h2" stroke="#c02a7c" stroke-width="0.7" fill="none"/>
<circle cx="468.86" cy="275.85" r="1.1" fill="#c02a7c"/>
<path d="M478.66,280.00V282.46M477.66,280.00h2M477.66,282.46h2" stroke="#c02a7c" stroke-width="0.7" fill="none"/>
<circle cx="478.66" cy="281.23" r="1.1" fill="#c02a7c"/>
<circle cx="488.46" cy="284.62" r="1.1" fill="#c02a7c"/>
<text x="114.36" y="371.8" text-anchor="middle" font-size="9.2" fill="#53ae57" stroke="#53ae57" stroke-width="0.15" textLength="123.9" lengthAdjust="spacing"><tspan>MM1.s</tspan><tspan dy="-3.4" font-size="6.6">WT/WT</tspan><tspan dy="3.4"> vs MM1.s</tspan><tspan dy="-3.4" font-size="6.6">WT/D50H</tspan></text>
<text x="114.36" y="382.5" text-anchor="middle" font-size="9.2" fill="#53ae57" stroke="#53ae57" stroke-width="0.15" textLength="97.6" lengthAdjust="spacing"><tspan>vs MM1.s</tspan><tspan dy="-3.4" font-size="6.6">CRBNKO</tspan><tspan dy="3.4">+D50H</tspan></text>
<text x="114.36" y="393.3" text-anchor="middle" font-size="9.2" fill="#53ae57" stroke="#53ae57" stroke-width="0.15" textLength="56.8" lengthAdjust="spacing"><tspan>Mezigdomide</tspan></text>
<line x1="53.19" y1="496.6" x2="175.37" y2="496.6" stroke="#1e1e1e" stroke-width="1.2"/>
<line x1="138.8" y1="399.11" x2="138.8" y2="497.2" stroke="#1e1e1e" stroke-width="1.2"/>
<line x1="56.8" y1="496.6" x2="56.8" y2="499.6" stroke="#1e1e1e" stroke-width="1.1"/>
<text x="56.2" y="508.9" text-anchor="middle" font-size="6.4" fill="#2a2a2a" class="k2">−5</text>
<line x1="73.2" y1="496.6" x2="73.2" y2="499.6" stroke="#1e1e1e" stroke-width="1.1"/>
<text x="72.6" y="508.9" text-anchor="middle" font-size="6.4" fill="#2a2a2a" class="k2">−4</text>
<line x1="89.6" y1="496.6" x2="89.6" y2="499.6" stroke="#1e1e1e" stroke-width="1.1"/>
<text x="89" y="508.9" text-anchor="middle" font-size="6.4" fill="#2a2a2a" class="k2">−3</text>
<line x1="106" y1="496.6" x2="106" y2="499.6" stroke="#1e1e1e" stroke-width="1.1"/>
<text x="105.4" y="508.9" text-anchor="middle" font-size="6.4" fill="#2a2a2a" class="k2">−2</text>
<line x1="122.4" y1="496.6" x2="122.4" y2="499.6" stroke="#1e1e1e" stroke-width="1.1"/>
<text x="121.8" y="508.9" text-anchor="middle" font-size="6.4" fill="#2a2a2a" class="k2">−1</text>
<line x1="138.8" y1="496.6" x2="138.8" y2="499.6" stroke="#1e1e1e" stroke-width="1.1"/>
<text x="138.8" y="508.9" text-anchor="middle" font-size="6.4" fill="#2a2a2a" class="k2">0</text>
<line x1="155.2" y1="496.6" x2="155.2" y2="499.6" stroke="#1e1e1e" stroke-width="1.1"/>
<text x="155.2" y="508.9" text-anchor="middle" font-size="6.4" fill="#2a2a2a" class="k2">1</text>
<line x1="171.6" y1="496.6" x2="171.6" y2="499.6" stroke="#1e1e1e" stroke-width="1.1"/>
<text x="171.6" y="508.9" text-anchor="middle" font-size="6.4" fill="#2a2a2a" class="k2">2</text>
<line x1="135.8" y1="480.85" x2="138.8" y2="480.85" stroke="#1e1e1e" stroke-width="1.1"/>
<text x="132.6" y="483.25" text-anchor="end" font-size="6.5" fill="#2a2a2a" class="k2">20</text>
<line x1="135.8" y1="465.1" x2="138.8" y2="465.1" stroke="#1e1e1e" stroke-width="1.1"/>
<text x="132.6" y="467.5" text-anchor="end" font-size="6.5" fill="#2a2a2a" class="k2">40</text>
<line x1="135.8" y1="449.35" x2="138.8" y2="449.35" stroke="#1e1e1e" stroke-width="1.1"/>
<text x="132.6" y="451.75" text-anchor="end" font-size="6.5" fill="#2a2a2a" class="k2">60</text>
<line x1="135.8" y1="433.6" x2="138.8" y2="433.6" stroke="#1e1e1e" stroke-width="1.1"/>
<text x="132.6" y="436" text-anchor="end" font-size="6.5" fill="#2a2a2a" class="k2">80</text>
<line x1="135.8" y1="417.85" x2="138.8" y2="417.85" stroke="#1e1e1e" stroke-width="1.1"/>
<text x="132.6" y="420.25" text-anchor="end" font-size="6.5" fill="#2a2a2a" class="k2">100</text>
<line x1="135.8" y1="402.1" x2="138.8" y2="402.1" stroke="#1e1e1e" stroke-width="1.1"/>
<text x="132.6" y="404.5" text-anchor="end" font-size="6.5" fill="#2a2a2a" class="k2">120</text>
<text x="114.28" y="522" text-anchor="middle" font-size="10" fill="#2a2a2a" class="k" textLength="23.5" lengthAdjust="spacingAndGlyphs">Log uM</text>
<line x1="29.5" y1="466.7" x2="36.5" y2="466.7" stroke="#a7a2c8" stroke-width="0.85"/>
<text x="39.8" y="469.1" font-size="7" fill="#2a2a2a" class="k2">MM1.s<tspan dy="-3.3" font-size="4.5" style="stroke-width:0">WT/WT</tspan></text>
<line x1="29.5" y1="477.5" x2="36.5" y2="477.5" stroke="#c02a7c" stroke-width="0.85"/>
<circle cx="33" cy="477.5" r="1" fill="#c02a7c"/>
<text x="39.8" y="479.9" font-size="7" fill="#2a2a2a" class="k2">MM1.s<tspan dy="-3.3" font-size="4.5" style="stroke-width:0">WT/D50H</tspan></text>
<line x1="29.5" y1="488.2" x2="36.5" y2="488.2" stroke="#363e45" stroke-width="0.85"/>
<circle cx="33" cy="488.2" r="1" fill="#363e45"/>
<text x="39.8" y="490.6" font-size="7" fill="#2a2a2a" class="k2">MM1.s<tspan dy="-3.3" font-size="4.5" style="stroke-width:0">CRBNKO</tspan><tspan dy="3.3">+p.D50H</tspan></text>
<path d="M69.69,423.61 L71.10,426.32 L72.51,428.90 L73.92,431.34 L75.33,433.65 L76.74,435.84 L78.15,437.92 L79.56,439.90 L80.97,441.77 L82.38,443.54 L83.79,445.22 L85.20,446.82 L86.62,448.33 L88.03,449.76 L89.44,451.12 L90.85,452.41 L92.26,453.63 L93.67,454.79 L95.08,455.89 L96.49,456.93 L97.90,457.92 L99.31,458.86 L100.72,459.75 L102.13,460.59 L103.54,461.39 L104.95,462.14 L106.36,462.86 L107.77,463.54 L109.18,464.19 L110.59,464.80 L112.00,465.38 L113.41,465.93 L114.82,466.45 L116.23,466.95 L117.64,467.42 L119.05,467.86 L120.46,468.29 L121.88,468.69 L123.29,469.06 L124.70,469.42 L126.11,469.77 L127.52,470.09 L128.93,470.40 L130.34,470.69 L131.75,470.96 L133.16,471.22 L134.57,471.47 L135.98,471.71 L137.39,471.93 L138.80,472.14" fill="none" stroke="#8884bd" stroke-width="0.9"/>
<path d="M69.69,420.38V426.15M68.69,420.38h2M68.69,426.15h2" stroke="#8884bd" stroke-width="0.7" fill="none"/>
<circle cx="69.69" cy="423.27" r="0.6" fill="#8884bd"/>
<path d="M79.56,431.92V449.23M78.56,431.92h2M78.56,449.23h2" stroke="#8884bd" stroke-width="0.7" fill="none"/>
<circle cx="79.56" cy="440.58" r="0.6" fill="#8884bd"/>
<path d="M89.44,447.31V455.00M88.44,447.31h2M88.44,455.00h2" stroke="#8884bd" stroke-width="0.7" fill="none"/>
<circle cx="89.44" cy="451.15" r="0.6" fill="#8884bd"/>
<path d="M99.31,456.92V460.77M98.31,456.92h2M98.31,460.77h2" stroke="#8884bd" stroke-width="0.7" fill="none"/>
<circle cx="99.31" cy="458.85" r="0.6" fill="#8884bd"/>
<path d="M109.18,462.12V465.19M108.18,462.12h2M108.18,465.19h2" stroke="#8884bd" stroke-width="0.7" fill="none"/>
<circle cx="109.18" cy="463.65" r="0.6" fill="#8884bd"/>
<path d="M119.05,465.96V469.04M118.05,465.96h2M118.05,469.04h2" stroke="#8884bd" stroke-width="0.7" fill="none"/>
<circle cx="119.05" cy="467.50" r="0.6" fill="#8884bd"/>
<path d="M128.93,468.85V471.92M127.93,468.85h2M127.93,471.92h2" stroke="#8884bd" stroke-width="0.7" fill="none"/>
<circle cx="128.93" cy="470.38" r="0.6" fill="#8884bd"/>
<path d="M138.80,471.15V474.23M137.80,471.15h2M137.80,474.23h2" stroke="#8884bd" stroke-width="0.7" fill="none"/>
<circle cx="138.80" cy="472.69" r="0.6" fill="#8884bd"/>
<path d="M69.69,421.49 L71.10,422.18 L72.51,422.88 L73.92,423.59 L75.33,424.31 L76.74,425.05 L78.15,425.80 L79.56,426.56 L80.97,427.33 L82.38,428.12 L83.79,428.91 L85.20,429.72 L86.62,430.54 L88.03,431.38 L89.44,432.22 L90.85,433.08 L92.26,433.95 L93.67,434.83 L95.08,435.71 L96.49,436.61 L97.90,437.52 L99.31,438.44 L100.72,439.37 L102.13,440.31 L103.54,441.26 L104.95,442.22 L106.36,443.18 L107.77,444.16 L109.18,445.14 L110.59,446.12 L112.00,447.12 L113.41,448.12 L114.82,449.13 L116.23,450.14 L117.64,451.15 L119.05,452.18 L120.46,453.20 L121.88,454.23 L123.29,455.26 L124.70,456.30 L126.11,457.33 L127.52,458.37 L128.93,459.41 L130.34,460.45 L131.75,461.49 L133.16,462.53 L134.57,463.57 L135.98,464.61 L137.39,465.64 L138.80,466.68" fill="none" stroke="#363e45" stroke-width="0.9"/>
<path d="M69.69,420.38V423.46M68.69,420.38h2M68.69,423.46h2" stroke="#363e45" stroke-width="0.7" fill="none"/>
<circle cx="69.69" cy="421.92" r="1.0" fill="#363e45"/>
<path d="M79.56,423.27V427.12M78.56,423.27h2M78.56,427.12h2" stroke="#363e45" stroke-width="0.7" fill="none"/>
<circle cx="79.56" cy="425.19" r="1.0" fill="#363e45"/>
<path d="M89.44,430.58V436.35M88.44,430.58h2M88.44,436.35h2" stroke="#363e45" stroke-width="0.7" fill="none"/>
<circle cx="89.44" cy="433.46" r="1.0" fill="#363e45"/>
<path d="M99.31,434.81V442.50M98.31,434.81h2M98.31,442.50h2" stroke="#363e45" stroke-width="0.7" fill="none"/>
<circle cx="99.31" cy="438.65" r="1.0" fill="#363e45"/>
<path d="M109.18,439.62V449.23M108.18,439.62h2M108.18,449.23h2" stroke="#363e45" stroke-width="0.7" fill="none"/>
<circle cx="109.18" cy="444.42" r="1.0" fill="#363e45"/>
<path d="M119.05,445.38V458.85M118.05,445.38h2M118.05,458.85h2" stroke="#363e45" stroke-width="0.7" fill="none"/>
<circle cx="119.05" cy="452.12" r="1.0" fill="#363e45"/>
<path d="M128.93,454.04V465.58M127.93,454.04h2M127.93,465.58h2" stroke="#363e45" stroke-width="0.7" fill="none"/>
<circle cx="128.93" cy="459.81" r="1.0" fill="#363e45"/>
<path d="M138.80,464.62V468.46M137.80,464.62h2M137.80,468.46h2" stroke="#363e45" stroke-width="0.7" fill="none"/>
<circle cx="138.80" cy="466.54" r="1.0" fill="#363e45"/>
<path d="M69.69,421.90 L71.10,423.48 L72.51,425.10 L73.92,426.77 L75.33,428.48 L76.74,430.21 L78.15,431.97 L79.56,433.75 L80.97,435.53 L82.38,437.32 L83.79,439.09 L85.20,440.85 L86.62,442.59 L88.03,444.29 L89.44,445.96 L90.85,447.59 L92.26,449.17 L93.67,450.69 L95.08,452.16 L96.49,453.56 L97.90,454.91 L99.31,456.19 L100.72,457.40 L102.13,458.56 L103.54,459.64 L104.95,460.66 L106.36,461.62 L107.77,462.52 L109.18,463.36 L110.59,464.15 L112.00,464.87 L113.41,465.55 L114.82,466.18 L116.23,466.76 L117.64,467.30 L119.05,467.79 L120.46,468.25 L121.88,468.67 L123.29,469.06 L124.70,469.41 L126.11,469.74 L127.52,470.04 L128.93,470.32 L130.34,470.57 L131.75,470.80 L133.16,471.01 L134.57,471.20 L135.98,471.38 L137.39,471.54 L138.80,471.69" fill="none" stroke="#c02a7c" stroke-width="1.1"/>
<path d="M69.69,420.38V423.46M68.69,420.38h2M68.69,423.46h2" stroke="#c02a7c" stroke-width="0.7" fill="none"/>
<circle cx="69.69" cy="421.92" r="1.1" fill="#c02a7c"/>
<path d="M79.56,431.92V435.77M78.56,431.92h2M78.56,435.77h2" stroke="#c02a7c" stroke-width="0.7" fill="none"/>
<circle cx="79.56" cy="433.85" r="1.1" fill="#c02a7c"/>
<path d="M89.44,440.58V450.19M88.44,440.58h2M88.44,450.19h2" stroke="#c02a7c" stroke-width="0.7" fill="none"/>
<circle cx="89.44" cy="445.38" r="1.1" fill="#c02a7c"/>
<path d="M99.31,452.12V461.73M98.31,452.12h2M98.31,461.73h2" stroke="#c02a7c" stroke-width="0.7" fill="none"/>
<circle cx="99.31" cy="456.92" r="1.1" fill="#c02a7c"/>
<path d="M109.18,461.73V465.58M108.18,461.73h2M108.18,465.58h2" stroke="#c02a7c" stroke-width="0.7" fill="none"/>
<circle cx="109.18" cy="463.65" r="1.1" fill="#c02a7c"/>
<path d="M119.05,465.00V468.85M118.05,465.00h2M118.05,468.85h2" stroke="#c02a7c" stroke-width="0.7" fill="none"/>
<circle cx="119.05" cy="466.92" r="1.1" fill="#c02a7c"/>
<path d="M128.93,468.46V471.54M127.93,468.46h2M127.93,471.54h2" stroke="#c02a7c" stroke-width="0.7" fill="none"/>
<circle cx="128.93" cy="470.00" r="1.1" fill="#c02a7c"/>
<path d="M138.80,470.77V473.85M137.80,470.77h2M137.80,473.85h2" stroke="#c02a7c" stroke-width="0.7" fill="none"/>
<circle cx="138.80" cy="472.31" r="1.1" fill="#c02a7c"/>
<text x="280.71" y="371.8" text-anchor="middle" font-size="9.2" fill="#e4952f" stroke="#e4952f" stroke-width="0.15" textLength="126.7" lengthAdjust="spacing"><tspan>MM1.s</tspan><tspan dy="-3.4" font-size="6.6">WT/WT</tspan><tspan dy="3.4"> vs MM1.s</tspan><tspan dy="-3.4" font-size="6.6">WT/C326G</tspan></text>
<text x="280.71" y="382.5" text-anchor="middle" font-size="9.2" fill="#e4952f" stroke="#e4952f" stroke-width="0.15" textLength="102.2" lengthAdjust="spacing"><tspan>vs MM1.s</tspan><tspan dy="-3.4" font-size="6.6">CRBNKO</tspan><tspan dy="3.4">+C326G</tspan></text>
<text x="280.71" y="393.3" text-anchor="middle" font-size="9.2" fill="#e4952f" stroke="#e4952f" stroke-width="0.15" textLength="56.8" lengthAdjust="spacing"><tspan>Mezigdomide</tspan></text>
<line x1="221.4" y1="496.6" x2="339.86" y2="496.6" stroke="#1e1e1e" stroke-width="1.2"/>
<line x1="304.4" y1="403.25" x2="304.4" y2="497.2" stroke="#1e1e1e" stroke-width="1.2"/>
<line x1="224.9" y1="496.6" x2="224.9" y2="499.6" stroke="#1e1e1e" stroke-width="1.1"/>
<text x="224.3" y="508.9" text-anchor="middle" font-size="6.4" fill="#2a2a2a" class="k2">−5</text>
<line x1="240.8" y1="496.6" x2="240.8" y2="499.6" stroke="#1e1e1e" stroke-width="1.1"/>
<text x="240.2" y="508.9" text-anchor="middle" font-size="6.4" fill="#2a2a2a" class="k2">−4</text>
<line x1="256.7" y1="496.6" x2="256.7" y2="499.6" stroke="#1e1e1e" stroke-width="1.1"/>
<text x="256.1" y="508.9" text-anchor="middle" font-size="6.4" fill="#2a2a2a" class="k2">−3</text>
<line x1="272.6" y1="496.6" x2="272.6" y2="499.6" stroke="#1e1e1e" stroke-width="1.1"/>
<text x="272" y="508.9" text-anchor="middle" font-size="6.4" fill="#2a2a2a" class="k2">−2</text>
<line x1="288.5" y1="496.6" x2="288.5" y2="499.6" stroke="#1e1e1e" stroke-width="1.1"/>
<text x="287.9" y="508.9" text-anchor="middle" font-size="6.4" fill="#2a2a2a" class="k2">−1</text>
<line x1="304.4" y1="496.6" x2="304.4" y2="499.6" stroke="#1e1e1e" stroke-width="1.1"/>
<text x="304.4" y="508.9" text-anchor="middle" font-size="6.4" fill="#2a2a2a" class="k2">0</text>
<line x1="320.3" y1="496.6" x2="320.3" y2="499.6" stroke="#1e1e1e" stroke-width="1.1"/>
<text x="320.3" y="508.9" text-anchor="middle" font-size="6.4" fill="#2a2a2a" class="k2">1</text>
<line x1="336.2" y1="496.6" x2="336.2" y2="499.6" stroke="#1e1e1e" stroke-width="1.1"/>
<text x="336.2" y="508.9" text-anchor="middle" font-size="6.4" fill="#2a2a2a" class="k2">2</text>
<line x1="301.4" y1="481.52" x2="304.4" y2="481.52" stroke="#1e1e1e" stroke-width="1.1"/>
<text x="298.2" y="483.92" text-anchor="end" font-size="6.5" fill="#2a2a2a" class="k2">20</text>
<line x1="301.4" y1="466.44" x2="304.4" y2="466.44" stroke="#1e1e1e" stroke-width="1.1"/>
<text x="298.2" y="468.84" text-anchor="end" font-size="6.5" fill="#2a2a2a" class="k2">40</text>
<line x1="301.4" y1="451.36" x2="304.4" y2="451.36" stroke="#1e1e1e" stroke-width="1.1"/>
<text x="298.2" y="453.76" text-anchor="end" font-size="6.5" fill="#2a2a2a" class="k2">60</text>
<line x1="301.4" y1="436.28" x2="304.4" y2="436.28" stroke="#1e1e1e" stroke-width="1.1"/>
<text x="298.2" y="438.68" text-anchor="end" font-size="6.5" fill="#2a2a2a" class="k2">80</text>
<line x1="301.4" y1="421.2" x2="304.4" y2="421.2" stroke="#1e1e1e" stroke-width="1.1"/>
<text x="298.2" y="423.6" text-anchor="end" font-size="6.5" fill="#2a2a2a" class="k2">100</text>
<line x1="301.4" y1="406.12" x2="304.4" y2="406.12" stroke="#1e1e1e" stroke-width="1.1"/>
<text x="298.2" y="408.52" text-anchor="end" font-size="6.5" fill="#2a2a2a" class="k2">120</text>
<text x="280.63" y="522" text-anchor="middle" font-size="10" fill="#2a2a2a" class="k" textLength="23.5" lengthAdjust="spacingAndGlyphs">Log uM</text>
<line x1="192.3" y1="466.7" x2="199.3" y2="466.7" stroke="#a7a2c8" stroke-width="0.85"/>
<text x="202.8" y="469.1" font-size="7" fill="#2a2a2a" class="k2">MM1.s<tspan dy="-3.3" font-size="4.5" style="stroke-width:0">WT/WT</tspan></text>
<line x1="192.3" y1="477.5" x2="199.3" y2="477.5" stroke="#c02a7c" stroke-width="0.85"/>
<circle cx="195.8" cy="477.5" r="1" fill="#c02a7c"/>
<text x="202.8" y="479.9" font-size="7" fill="#2a2a2a" class="k2">MM1.s<tspan dy="-3.3" font-size="4.5" style="stroke-width:0">WT/C326G</tspan></text>
<line x1="192.3" y1="488.2" x2="199.3" y2="488.2" stroke="#363e45" stroke-width="0.85"/>
<circle cx="195.8" cy="488.2" r="1" fill="#363e45"/>
<text x="202.8" y="490.6" font-size="7" fill="#2a2a2a" class="k2">MM1.s<tspan dy="-3.3" font-size="4.5" style="stroke-width:0">CRBNKO</tspan><tspan dy="3.3">+p.C326G</tspan></text>
<path d="M237.40,426.62 L238.76,428.45 L240.13,430.29 L241.50,432.12 L242.87,433.95 L244.23,435.76 L245.60,437.55 L246.97,439.31 L248.34,441.04 L249.70,442.74 L251.07,444.39 L252.44,446.00 L253.81,447.56 L255.17,449.07 L256.54,450.52 L257.91,451.92 L259.28,453.26 L260.64,454.54 L262.01,455.76 L263.38,456.92 L264.75,458.03 L266.11,459.08 L267.48,460.07 L268.85,461.00 L270.21,461.89 L271.58,462.72 L272.95,463.50 L274.32,464.23 L275.68,464.91 L277.05,465.56 L278.42,466.15 L279.79,466.71 L281.15,467.24 L282.52,467.72 L283.89,468.17 L285.26,468.59 L286.62,468.99 L287.99,469.35 L289.36,469.68 L290.73,470.00 L292.09,470.29 L293.46,470.55 L294.83,470.80 L296.20,471.03 L297.56,471.24 L298.93,471.44 L300.30,471.62 L301.67,471.79 L303.03,471.94 L304.40,472.09" fill="none" stroke="#8884bd" stroke-width="0.9"/>
<path d="M237.40,424.62V428.46M236.40,424.62h2M236.40,428.46h2" stroke="#8884bd" stroke-width="0.7" fill="none"/>
<circle cx="237.40" cy="426.54" r="0.6" fill="#8884bd"/>
<path d="M246.97,431.92V447.31M245.97,431.92h2M245.97,447.31h2" stroke="#8884bd" stroke-width="0.7" fill="none"/>
<circle cx="246.97" cy="439.62" r="0.6" fill="#8884bd"/>
<path d="M256.54,445.38V455.00M255.54,445.38h2M255.54,455.00h2" stroke="#8884bd" stroke-width="0.7" fill="none"/>
<circle cx="256.54" cy="450.19" r="0.6" fill="#8884bd"/>
<path d="M266.11,456.92V460.77M265.11,456.92h2M265.11,460.77h2" stroke="#8884bd" stroke-width="0.7" fill="none"/>
<circle cx="266.11" cy="458.85" r="0.6" fill="#8884bd"/>
<path d="M275.68,464.04V467.12M274.68,464.04h2M274.68,467.12h2" stroke="#8884bd" stroke-width="0.7" fill="none"/>
<circle cx="275.68" cy="465.58" r="0.6" fill="#8884bd"/>
<path d="M285.26,466.92V470.00M284.26,466.92h2M284.26,470.00h2" stroke="#8884bd" stroke-width="0.7" fill="none"/>
<circle cx="285.26" cy="468.46" r="0.6" fill="#8884bd"/>
<path d="M294.83,468.85V471.92M293.83,468.85h2M293.83,471.92h2" stroke="#8884bd" stroke-width="0.7" fill="none"/>
<circle cx="294.83" cy="470.38" r="0.6" fill="#8884bd"/>
<path d="M304.40,470.77V473.85M303.40,470.77h2M303.40,473.85h2" stroke="#8884bd" stroke-width="0.7" fill="none"/>
<circle cx="304.40" cy="472.31" r="0.6" fill="#8884bd"/>
<path d="M237.40,421.96 L238.76,422.02 L240.13,422.09 L241.50,422.16 L242.87,422.25 L244.23,422.34 L245.60,422.44 L246.97,422.56 L248.34,422.69 L249.70,422.84 L251.07,423.00 L252.44,423.18 L253.81,423.38 L255.17,423.61 L256.54,423.86 L257.91,424.14 L259.28,424.45 L260.64,424.79 L262.01,425.17 L263.38,425.59 L264.75,426.05 L266.11,426.55 L267.48,427.10 L268.85,427.70 L270.21,428.35 L271.58,429.05 L272.95,429.81 L274.32,430.62 L275.68,431.48 L277.05,432.40 L278.42,433.37 L279.79,434.39 L281.15,435.46 L282.52,436.56 L283.89,437.70 L285.26,438.86 L286.62,440.05 L287.99,441.24 L289.36,442.44 L290.73,443.63 L292.09,444.81 L293.46,445.97 L294.83,447.10 L296.20,448.20 L297.56,449.25 L298.93,450.26 L300.30,451.21 L301.67,452.12 L303.03,452.97 L304.40,453.77" fill="none" stroke="#363e45" stroke-width="0.9"/>
<path d="M237.40,420.00V423.85M236.40,420.00h2M236.40,423.85h2" stroke="#363e45" stroke-width="0.7" fill="none"/>
<circle cx="237.40" cy="421.92" r="1.0" fill="#363e45"/>
<path d="M246.97,421.15V424.23M245.97,421.15h2M245.97,424.23h2" stroke="#363e45" stroke-width="0.7" fill="none"/>
<circle cx="246.97" cy="422.69" r="1.0" fill="#363e45"/>
<path d="M256.54,422.69V425.77M255.54,422.69h2M255.54,425.77h2" stroke="#363e45" stroke-width="0.7" fill="none"/>
<circle cx="256.54" cy="424.23" r="1.0" fill="#363e45"/>
<path d="M266.11,424.23V427.31M265.11,424.23h2M265.11,427.31h2" stroke="#363e45" stroke-width="0.7" fill="none"/>
<circle cx="266.11" cy="425.77" r="1.0" fill="#363e45"/>
<path d="M275.68,430.38V432.69M274.68,430.38h2M274.68,432.69h2" stroke="#363e45" stroke-width="0.7" fill="none"/>
<circle cx="275.68" cy="431.54" r="1.0" fill="#363e45"/>
<path d="M285.26,438.46V440.77M284.26,438.46h2M284.26,440.77h2" stroke="#363e45" stroke-width="0.7" fill="none"/>
<circle cx="285.26" cy="439.62" r="1.0" fill="#363e45"/>
<path d="M294.83,444.81V447.88M293.83,444.81h2M293.83,447.88h2" stroke="#363e45" stroke-width="0.7" fill="none"/>
<circle cx="294.83" cy="446.35" r="1.0" fill="#363e45"/>
<path d="M304.40,452.88V455.19M303.40,452.88h2M303.40,455.19h2" stroke="#363e45" stroke-width="0.7" fill="none"/>
<circle cx="304.40" cy="454.04" r="1.0" fill="#363e45"/>
<path d="M237.40,421.56 L238.76,423.03 L240.13,424.56 L241.50,426.16 L242.87,427.81 L244.23,429.51 L245.60,431.25 L246.97,433.01 L248.34,434.79 L249.70,436.58 L251.07,438.37 L252.44,440.14 L253.81,441.88 L255.17,443.59 L256.54,445.26 L257.91,446.87 L259.28,448.42 L260.64,449.91 L262.01,451.33 L263.38,452.68 L264.75,453.95 L266.11,455.14 L267.48,456.26 L268.85,457.30 L270.21,458.28 L271.58,459.17 L272.95,460.00 L274.32,460.77 L275.68,461.47 L277.05,462.11 L278.42,462.70 L279.79,463.24 L281.15,463.73 L282.52,464.17 L283.89,464.57 L285.26,464.94 L286.62,465.27 L287.99,465.57 L289.36,465.84 L290.73,466.09 L292.09,466.31 L293.46,466.50 L294.83,466.68 L296.20,466.84 L297.56,466.99 L298.93,467.12 L300.30,467.24 L301.67,467.34 L303.03,467.43 L304.40,467.52" fill="none" stroke="#c02a7c" stroke-width="1.1"/>
<path d="M237.40,420.38V423.46M236.40,420.38h2M236.40,423.46h2" stroke="#c02a7c" stroke-width="0.7" fill="none"/>
<circle cx="237.40" cy="421.92" r="1.1" fill="#c02a7c"/>
<path d="M246.97,428.08V435.77M245.97,428.08h2M245.97,435.77h2" stroke="#c02a7c" stroke-width="0.7" fill="none"/>
<circle cx="246.97" cy="431.92" r="1.1" fill="#c02a7c"/>
<path d="M256.54,441.54V451.15M255.54,441.54h2M255.54,451.15h2" stroke="#c02a7c" stroke-width="0.7" fill="none"/>
<circle cx="256.54" cy="446.35" r="1.1" fill="#c02a7c"/>
<path d="M266.11,450.19V459.81M265.11,450.19h2M265.11,459.81h2" stroke="#c02a7c" stroke-width="0.7" fill="none"/>
<circle cx="266.11" cy="455.00" r="1.1" fill="#c02a7c"/>
<path d="M275.68,459.81V463.65M274.68,459.81h2M274.68,463.65h2" stroke="#c02a7c" stroke-width="0.7" fill="none"/>
<circle cx="275.68" cy="461.73" r="1.1" fill="#c02a7c"/>
<path d="M285.26,462.12V465.19M284.26,462.12h2M284.26,465.19h2" stroke="#c02a7c" stroke-width="0.7" fill="none"/>
<circle cx="285.26" cy="463.65" r="1.1" fill="#c02a7c"/>
<path d="M294.83,465.00V468.08M293.83,465.00h2M293.83,468.08h2" stroke="#c02a7c" stroke-width="0.7" fill="none"/>
<circle cx="294.83" cy="466.54" r="1.1" fill="#c02a7c"/>
<path d="M304.40,466.92V470.00M303.40,466.92h2M303.40,470.00h2" stroke="#c02a7c" stroke-width="0.7" fill="none"/>
<circle cx="304.40" cy="468.46" r="1.1" fill="#c02a7c"/>
<text x="449.56" y="371.8" text-anchor="middle" font-size="9.2" fill="#c0243f" stroke="#c0243f" stroke-width="0.15" textLength="125.4" lengthAdjust="spacing"><tspan>MM1.s</tspan><tspan dy="-3.4" font-size="6.6">WT/WT</tspan><tspan dy="3.4"> vs MM1.s</tspan><tspan dy="-3.4" font-size="6.6">WT/F381S</tspan></text>
<text x="449.56" y="382.5" text-anchor="middle" font-size="9.2" fill="#c0243f" stroke="#c0243f" stroke-width="0.15" textLength="104.2" lengthAdjust="spacing"><tspan>vs MM1.s</tspan><tspan dy="-3.4" font-size="6.6">CRBNKO</tspan><tspan dy="3.4">+W386A</tspan></text>
<text x="449.56" y="393.3" text-anchor="middle" font-size="9.2" fill="#c0243f" stroke="#c0243f" stroke-width="0.15" textLength="56.8" lengthAdjust="spacing"><tspan>Mezigdomide</tspan></text>
<line x1="389.14" y1="496.6" x2="509.83" y2="496.6" stroke="#1e1e1e" stroke-width="1.2"/>
<line x1="473.7" y1="402.2" x2="473.7" y2="497.2" stroke="#1e1e1e" stroke-width="1.2"/>
<line x1="392.7" y1="496.6" x2="392.7" y2="499.6" stroke="#1e1e1e" stroke-width="1.1"/>
<text x="392.1" y="508.9" text-anchor="middle" font-size="6.4" fill="#2a2a2a" class="k2">−5</text>
<line x1="408.9" y1="496.6" x2="408.9" y2="499.6" stroke="#1e1e1e" stroke-width="1.1"/>
<text x="408.3" y="508.9" text-anchor="middle" font-size="6.4" fill="#2a2a2a" class="k2">−4</text>
<line x1="425.1" y1="496.6" x2="425.1" y2="499.6" stroke="#1e1e1e" stroke-width="1.1"/>
<text x="424.5" y="508.9" text-anchor="middle" font-size="6.4" fill="#2a2a2a" class="k2">−3</text>
<line x1="441.3" y1="496.6" x2="441.3" y2="499.6" stroke="#1e1e1e" stroke-width="1.1"/>
<text x="440.7" y="508.9" text-anchor="middle" font-size="6.4" fill="#2a2a2a" class="k2">−2</text>
<line x1="457.5" y1="496.6" x2="457.5" y2="499.6" stroke="#1e1e1e" stroke-width="1.1"/>
<text x="456.9" y="508.9" text-anchor="middle" font-size="6.4" fill="#2a2a2a" class="k2">−1</text>
<line x1="473.7" y1="496.6" x2="473.7" y2="499.6" stroke="#1e1e1e" stroke-width="1.1"/>
<text x="473.7" y="508.9" text-anchor="middle" font-size="6.4" fill="#2a2a2a" class="k2">0</text>
<line x1="489.9" y1="496.6" x2="489.9" y2="499.6" stroke="#1e1e1e" stroke-width="1.1"/>
<text x="489.9" y="508.9" text-anchor="middle" font-size="6.4" fill="#2a2a2a" class="k2">1</text>
<line x1="506.1" y1="496.6" x2="506.1" y2="499.6" stroke="#1e1e1e" stroke-width="1.1"/>
<text x="506.1" y="508.9" text-anchor="middle" font-size="6.4" fill="#2a2a2a" class="k2">2</text>
<line x1="470.7" y1="481.35" x2="473.7" y2="481.35" stroke="#1e1e1e" stroke-width="1.1"/>
<text x="467.5" y="483.75" text-anchor="end" font-size="6.5" fill="#2a2a2a" class="k2">20</text>
<line x1="470.7" y1="466.1" x2="473.7" y2="466.1" stroke="#1e1e1e" stroke-width="1.1"/>
<text x="467.5" y="468.5" text-anchor="end" font-size="6.5" fill="#2a2a2a" class="k2">40</text>
<line x1="470.7" y1="450.85" x2="473.7" y2="450.85" stroke="#1e1e1e" stroke-width="1.1"/>
<text x="467.5" y="453.25" text-anchor="end" font-size="6.5" fill="#2a2a2a" class="k2">60</text>
<line x1="470.7" y1="435.6" x2="473.7" y2="435.6" stroke="#1e1e1e" stroke-width="1.1"/>
<text x="467.5" y="438" text-anchor="end" font-size="6.5" fill="#2a2a2a" class="k2">80</text>
<line x1="470.7" y1="420.35" x2="473.7" y2="420.35" stroke="#1e1e1e" stroke-width="1.1"/>
<text x="467.5" y="422.75" text-anchor="end" font-size="6.5" fill="#2a2a2a" class="k2">100</text>
<line x1="470.7" y1="405.1" x2="473.7" y2="405.1" stroke="#1e1e1e" stroke-width="1.1"/>
<text x="467.5" y="407.5" text-anchor="end" font-size="6.5" fill="#2a2a2a" class="k2">120</text>
<text x="449.48" y="522" text-anchor="middle" font-size="10" fill="#2a2a2a" class="k" textLength="23.5" lengthAdjust="spacingAndGlyphs">Log uM</text>
<line x1="360.6" y1="466.7" x2="367.6" y2="466.7" stroke="#a7a2c8" stroke-width="0.85"/>
<text x="370.9" y="469.1" font-size="7" fill="#2a2a2a" class="k2">MM1.s<tspan dy="-3.3" font-size="4.5" style="stroke-width:0">WT/WT</tspan></text>
<line x1="360.6" y1="477.5" x2="367.6" y2="477.5" stroke="#c02a7c" stroke-width="0.85"/>
<circle cx="364.1" cy="477.5" r="1" fill="#c02a7c"/>
<text x="370.9" y="479.9" font-size="7" fill="#2a2a2a" class="k2">MM1.s<tspan dy="-3.3" font-size="4.5" style="stroke-width:0">WT/W386A</tspan></text>
<line x1="360.6" y1="488.2" x2="367.6" y2="488.2" stroke="#363e45" stroke-width="0.85"/>
<circle cx="364.1" cy="488.2" r="1" fill="#363e45"/>
<text x="370.9" y="490.6" font-size="7" fill="#2a2a2a" class="k2">MM1.s<tspan dy="-3.3" font-size="4.5" style="stroke-width:0">CRBNKO</tspan><tspan dy="3.3">+p.W386A</tspan></text>
<path d="M405.43,424.79 L406.83,427.55 L408.22,430.16 L409.61,432.62 L411.01,434.95 L412.40,437.15 L413.79,439.23 L415.19,441.20 L416.58,443.05 L417.97,444.81 L419.37,446.46 L420.76,448.03 L422.15,449.51 L423.54,450.91 L424.94,452.23 L426.33,453.48 L427.72,454.66 L429.12,455.77 L430.51,456.82 L431.90,457.82 L433.30,458.76 L434.69,459.65 L436.08,460.49 L437.48,461.28 L438.87,462.03 L440.26,462.74 L441.66,463.41 L443.05,464.04 L444.44,464.64 L445.84,465.20 L447.23,465.73 L448.62,466.24 L450.02,466.71 L451.41,467.16 L452.80,467.59 L454.20,467.99 L455.59,468.37 L456.98,468.73 L458.37,469.07 L459.77,469.39 L461.16,469.69 L462.55,469.98 L463.95,470.25 L465.34,470.50 L466.73,470.74 L468.13,470.97 L469.52,471.19 L470.91,471.39 L472.31,471.58 L473.70,471.76" fill="none" stroke="#8884bd" stroke-width="0.9"/>
<path d="M405.43,422.69V425.77M404.43,422.69h2M404.43,425.77h2" stroke="#8884bd" stroke-width="0.7" fill="none"/>
<circle cx="405.43" cy="424.23" r="0.6" fill="#8884bd"/>
<path d="M415.19,435.77V449.23M414.19,435.77h2M414.19,449.23h2" stroke="#8884bd" stroke-width="0.7" fill="none"/>
<circle cx="415.19" cy="442.50" r="0.6" fill="#8884bd"/>
<path d="M424.94,447.31V456.92M423.94,447.31h2M423.94,456.92h2" stroke="#8884bd" stroke-width="0.7" fill="none"/>
<circle cx="424.94" cy="452.12" r="0.6" fill="#8884bd"/>
<path d="M434.69,456.92V460.77M433.69,456.92h2M433.69,460.77h2" stroke="#8884bd" stroke-width="0.7" fill="none"/>
<circle cx="434.69" cy="458.85" r="0.6" fill="#8884bd"/>
<path d="M444.44,463.08V466.15M443.44,463.08h2M443.44,466.15h2" stroke="#8884bd" stroke-width="0.7" fill="none"/>
<circle cx="444.44" cy="464.62" r="0.6" fill="#8884bd"/>
<path d="M454.20,465.96V469.04M453.20,465.96h2M453.20,469.04h2" stroke="#8884bd" stroke-width="0.7" fill="none"/>
<circle cx="454.20" cy="467.50" r="0.6" fill="#8884bd"/>
<path d="M463.95,468.85V471.92M462.95,468.85h2M462.95,471.92h2" stroke="#8884bd" stroke-width="0.7" fill="none"/>
<circle cx="463.95" cy="470.38" r="0.6" fill="#8884bd"/>
<path d="M473.70,470.77V473.85M472.70,470.77h2M472.70,473.85h2" stroke="#8884bd" stroke-width="0.7" fill="none"/>
<circle cx="473.70" cy="472.31" r="0.6" fill="#8884bd"/>
<path d="M405.43,422.83 L406.83,422.81 L408.22,422.79 L409.61,422.78 L411.01,422.77 L412.40,422.76 L413.79,422.75 L415.19,422.75 L416.58,422.74 L417.97,422.74 L419.37,422.75 L420.76,422.75 L422.15,422.76 L423.54,422.77 L424.94,422.79 L426.33,422.80 L427.72,422.82 L429.12,422.84 L430.51,422.86 L431.90,422.89 L433.30,422.91 L434.69,422.95 L436.08,422.98 L437.48,423.01 L438.87,423.05 L440.26,423.09 L441.66,423.13 L443.05,423.18 L444.44,423.23 L445.84,423.28 L447.23,423.33 L448.62,423.38 L450.02,423.44 L451.41,423.50 L452.80,423.56 L454.20,423.63 L455.59,423.70 L456.98,423.77 L458.37,423.84 L459.77,423.91 L461.16,423.99 L462.55,424.07 L463.95,424.15 L465.34,424.24 L466.73,424.33 L468.13,424.42 L469.52,424.51 L470.91,424.60 L472.31,424.70 L473.70,424.80" fill="none" stroke="#363e45" stroke-width="0.9"/>
<path d="M405.43,419.42V425.19M404.43,419.42h2M404.43,425.19h2" stroke="#363e45" stroke-width="0.7" fill="none"/>
<circle cx="405.43" cy="422.31" r="1.0" fill="#363e45"/>
<path d="M415.19,420.38V426.15M414.19,420.38h2M414.19,426.15h2" stroke="#363e45" stroke-width="0.7" fill="none"/>
<circle cx="415.19" cy="423.27" r="1.0" fill="#363e45"/>
<path d="M424.94,420.38V426.15M423.94,420.38h2M423.94,426.15h2" stroke="#363e45" stroke-width="0.7" fill="none"/>
<circle cx="424.94" cy="423.27" r="1.0" fill="#363e45"/>
<path d="M434.69,419.81V425.58M433.69,419.81h2M433.69,425.58h2" stroke="#363e45" stroke-width="0.7" fill="none"/>
<circle cx="434.69" cy="422.69" r="1.0" fill="#363e45"/>
<path d="M444.44,420.96V425.58M443.44,420.96h2M443.44,425.58h2" stroke="#363e45" stroke-width="0.7" fill="none"/>
<circle cx="444.44" cy="423.27" r="1.0" fill="#363e45"/>
<path d="M454.20,420.96V425.58M453.20,420.96h2M453.20,425.58h2" stroke="#363e45" stroke-width="0.7" fill="none"/>
<circle cx="454.20" cy="423.27" r="1.0" fill="#363e45"/>
<path d="M463.95,421.54V426.15M462.95,421.54h2M462.95,426.15h2" stroke="#363e45" stroke-width="0.7" fill="none"/>
<circle cx="463.95" cy="423.85" r="1.0" fill="#363e45"/>
<path d="M473.70,423.27V427.12M472.70,423.27h2M472.70,427.12h2" stroke="#363e45" stroke-width="0.7" fill="none"/>
<circle cx="473.70" cy="425.19" r="1.0" fill="#363e45"/>
<path d="M405.43,422.13 L406.83,424.53 L408.22,426.87 L409.61,429.15 L411.01,431.36 L412.40,433.50 L413.79,435.55 L415.19,437.53 L416.58,439.42 L417.97,441.23 L419.37,442.94 L420.76,444.58 L422.15,446.12 L423.54,447.58 L424.94,448.96 L426.33,450.26 L427.72,451.48 L429.12,452.62 L430.51,453.69 L431.90,454.68 L433.30,455.61 L434.69,456.48 L436.08,457.29 L437.48,458.04 L438.87,458.74 L440.26,459.38 L441.66,459.98 L443.05,460.53 L444.44,461.05 L445.84,461.52 L447.23,461.96 L448.62,462.36 L450.02,462.73 L451.41,463.07 L452.80,463.39 L454.20,463.68 L455.59,463.95 L456.98,464.19 L458.37,464.42 L459.77,464.63 L461.16,464.82 L462.55,465.00 L463.95,465.16 L465.34,465.31 L466.73,465.44 L468.13,465.57 L469.52,465.68 L470.91,465.79 L472.31,465.88 L473.70,465.97" fill="none" stroke="#c02a7c" stroke-width="1.1"/>
<path d="M405.43,420.77V423.85M404.43,420.77h2M404.43,423.85h2" stroke="#c02a7c" stroke-width="0.7" fill="none"/>
<circle cx="405.43" cy="422.31" r="1.1" fill="#c02a7c"/>
<path d="M415.19,432.88V440.58M414.19,432.88h2M414.19,440.58h2" stroke="#c02a7c" stroke-width="0.7" fill="none"/>
<circle cx="415.19" cy="436.73" r="1.1" fill="#c02a7c"/>
<path d="M424.94,445.38V455.00M423.94,445.38h2M423.94,455.00h2" stroke="#c02a7c" stroke-width="0.7" fill="none"/>
<circle cx="424.94" cy="450.19" r="1.1" fill="#c02a7c"/>
<path d="M434.69,451.73V460.19M433.69,451.73h2M433.69,460.19h2" stroke="#c02a7c" stroke-width="0.7" fill="none"/>
<circle cx="434.69" cy="455.96" r="1.1" fill="#c02a7c"/>
<path d="M444.44,459.23V463.08M443.44,459.23h2M443.44,463.08h2" stroke="#c02a7c" stroke-width="0.7" fill="none"/>
<circle cx="444.44" cy="461.15" r="1.1" fill="#c02a7c"/>
<path d="M454.20,461.15V465.00M453.20,461.15h2M453.20,465.00h2" stroke="#c02a7c" stroke-width="0.7" fill="none"/>
<circle cx="454.20" cy="463.08" r="1.1" fill="#c02a7c"/>
<path d="M463.95,463.46V466.54M462.95,463.46h2M462.95,466.54h2" stroke="#c02a7c" stroke-width="0.7" fill="none"/>
<circle cx="463.95" cy="465.00" r="1.1" fill="#c02a7c"/>
<path d="M473.70,465.00V468.08M472.70,465.00h2M472.70,468.08h2" stroke="#c02a7c" stroke-width="0.7" fill="none"/>
<circle cx="473.70" cy="466.54" r="1.1" fill="#c02a7c"/>
<text x="113.36" y="551.1" text-anchor="middle" font-size="9.2" fill="#53ae57" stroke="#53ae57" stroke-width="0.15" textLength="126.2" lengthAdjust="spacing"><tspan>MM1.s</tspan><tspan dy="-3.4" font-size="6.6">WT/WT</tspan><tspan dy="3.4"> vs MM1.s</tspan><tspan dy="-3.4" font-size="6.6">WT/R283K</tspan></text>
<text x="113.36" y="561.8" text-anchor="middle" font-size="9.2" fill="#53ae57" stroke="#53ae57" stroke-width="0.15" textLength="100.3" lengthAdjust="spacing"><tspan>vs MM1.s</tspan><tspan dy="-3.4" font-size="6.6">CRBNKO</tspan><tspan dy="3.4">+R283K</tspan></text>
<text x="113.36" y="572.6" text-anchor="middle" font-size="9.2" fill="#53ae57" stroke="#53ae57" stroke-width="0.15" textLength="56.8" lengthAdjust="spacing"><tspan>Mezigdomide</tspan></text>
<line x1="52.94" y1="673.4" x2="173.63" y2="673.4" stroke="#1e1e1e" stroke-width="1.2"/>
<line x1="137.5" y1="579.56" x2="137.5" y2="674" stroke="#1e1e1e" stroke-width="1.2"/>
<line x1="56.5" y1="673.4" x2="56.5" y2="676.4" stroke="#1e1e1e" stroke-width="1.1"/>
<text x="55.9" y="685.7" text-anchor="middle" font-size="6.4" fill="#2a2a2a" class="k2">−5</text>
<line x1="72.7" y1="673.4" x2="72.7" y2="676.4" stroke="#1e1e1e" stroke-width="1.1"/>
<text x="72.1" y="685.7" text-anchor="middle" font-size="6.4" fill="#2a2a2a" class="k2">−4</text>
<line x1="88.9" y1="673.4" x2="88.9" y2="676.4" stroke="#1e1e1e" stroke-width="1.1"/>
<text x="88.3" y="685.7" text-anchor="middle" font-size="6.4" fill="#2a2a2a" class="k2">−3</text>
<line x1="105.1" y1="673.4" x2="105.1" y2="676.4" stroke="#1e1e1e" stroke-width="1.1"/>
<text x="104.5" y="685.7" text-anchor="middle" font-size="6.4" fill="#2a2a2a" class="k2">−2</text>
<line x1="121.3" y1="673.4" x2="121.3" y2="676.4" stroke="#1e1e1e" stroke-width="1.1"/>
<text x="120.7" y="685.7" text-anchor="middle" font-size="6.4" fill="#2a2a2a" class="k2">−1</text>
<line x1="137.5" y1="673.4" x2="137.5" y2="676.4" stroke="#1e1e1e" stroke-width="1.1"/>
<text x="137.5" y="685.7" text-anchor="middle" font-size="6.4" fill="#2a2a2a" class="k2">0</text>
<line x1="153.7" y1="673.4" x2="153.7" y2="676.4" stroke="#1e1e1e" stroke-width="1.1"/>
<text x="153.7" y="685.7" text-anchor="middle" font-size="6.4" fill="#2a2a2a" class="k2">1</text>
<line x1="169.9" y1="673.4" x2="169.9" y2="676.4" stroke="#1e1e1e" stroke-width="1.1"/>
<text x="169.9" y="685.7" text-anchor="middle" font-size="6.4" fill="#2a2a2a" class="k2">2</text>
<line x1="134.5" y1="658.24" x2="137.5" y2="658.24" stroke="#1e1e1e" stroke-width="1.1"/>
<text x="131.3" y="660.64" text-anchor="end" font-size="6.5" fill="#2a2a2a" class="k2">20</text>
<line x1="134.5" y1="643.08" x2="137.5" y2="643.08" stroke="#1e1e1e" stroke-width="1.1"/>
<text x="131.3" y="645.48" text-anchor="end" font-size="6.5" fill="#2a2a2a" class="k2">40</text>
<line x1="134.5" y1="627.92" x2="137.5" y2="627.92" stroke="#1e1e1e" stroke-width="1.1"/>
<text x="131.3" y="630.32" text-anchor="end" font-size="6.5" fill="#2a2a2a" class="k2">60</text>
<line x1="134.5" y1="612.76" x2="137.5" y2="612.76" stroke="#1e1e1e" stroke-width="1.1"/>
<text x="131.3" y="615.16" text-anchor="end" font-size="6.5" fill="#2a2a2a" class="k2">80</text>
<line x1="134.5" y1="597.6" x2="137.5" y2="597.6" stroke="#1e1e1e" stroke-width="1.1"/>
<text x="131.3" y="600" text-anchor="end" font-size="6.5" fill="#2a2a2a" class="k2">100</text>
<line x1="134.5" y1="582.44" x2="137.5" y2="582.44" stroke="#1e1e1e" stroke-width="1.1"/>
<text x="131.3" y="584.84" text-anchor="end" font-size="6.5" fill="#2a2a2a" class="k2">120</text>
<text x="113.28" y="698.8" text-anchor="middle" font-size="10" fill="#2a2a2a" class="k" textLength="23.5" lengthAdjust="spacingAndGlyphs">Log uM</text>
<line x1="29.5" y1="643.5" x2="36.5" y2="643.5" stroke="#a7a2c8" stroke-width="0.85"/>
<text x="39.8" y="645.9" font-size="7" fill="#2a2a2a" class="k2">MM1.s<tspan dy="-3.3" font-size="4.5" style="stroke-width:0">WT/WT</tspan></text>
<line x1="29.5" y1="654.3" x2="36.5" y2="654.3" stroke="#c02a7c" stroke-width="0.85"/>
<circle cx="33" cy="654.3" r="1" fill="#c02a7c"/>
<text x="39.8" y="656.7" font-size="7" fill="#2a2a2a" class="k2">MM1.s<tspan dy="-3.3" font-size="4.5" style="stroke-width:0">WT/R283K</tspan></text>
<line x1="29.5" y1="664.9" x2="36.5" y2="664.9" stroke="#363e45" stroke-width="0.85"/>
<circle cx="33" cy="664.9" r="1" fill="#363e45"/>
<text x="39.8" y="667.3" font-size="7" fill="#2a2a2a" class="k2">MM1.s<tspan dy="-3.3" font-size="4.5" style="stroke-width:0">CRBNKO</tspan><tspan dy="3.3">+p.R283K</tspan></text>
<path d="M69.23,601.13 L70.63,603.96 L72.02,606.64 L73.41,609.19 L74.81,611.59 L76.20,613.87 L77.59,616.03 L78.99,618.06 L80.38,619.98 L81.77,621.80 L83.17,623.51 L84.56,625.12 L85.95,626.64 L87.34,628.08 L88.74,629.43 L90.13,630.70 L91.52,631.89 L92.92,633.02 L94.31,634.07 L95.70,635.07 L97.10,636.00 L98.49,636.88 L99.88,637.70 L101.28,638.47 L102.67,639.20 L104.06,639.88 L105.46,640.52 L106.85,641.12 L108.24,641.68 L109.64,642.21 L111.03,642.71 L112.42,643.17 L113.82,643.61 L115.21,644.02 L116.60,644.40 L118.00,644.76 L119.39,645.09 L120.78,645.41 L122.17,645.70 L123.57,645.98 L124.96,646.24 L126.35,646.48 L127.75,646.71 L129.14,646.92 L130.53,647.12 L131.93,647.30 L133.32,647.48 L134.71,647.64 L136.11,647.80 L137.50,647.94" fill="none" stroke="#8884bd" stroke-width="0.9"/>
<path d="M69.23,599.31V603.15M68.23,599.31h2M68.23,603.15h2" stroke="#8884bd" stroke-width="0.7" fill="none"/>
<circle cx="69.23" cy="601.23" r="0.6" fill="#8884bd"/>
<path d="M78.99,610.27V624.88M77.99,610.27h2M77.99,624.88h2" stroke="#8884bd" stroke-width="0.7" fill="none"/>
<circle cx="78.99" cy="617.58" r="0.6" fill="#8884bd"/>
<path d="M88.74,625.27V634.88M87.74,625.27h2M87.74,634.88h2" stroke="#8884bd" stroke-width="0.7" fill="none"/>
<circle cx="88.74" cy="630.08" r="0.6" fill="#8884bd"/>
<path d="M98.49,634.88V638.73M97.49,634.88h2M97.49,638.73h2" stroke="#8884bd" stroke-width="0.7" fill="none"/>
<circle cx="98.49" cy="636.81" r="0.6" fill="#8884bd"/>
<path d="M108.24,634.31V648.92M107.24,634.31h2M107.24,648.92h2" stroke="#8884bd" stroke-width="0.7" fill="none"/>
<circle cx="108.24" cy="641.62" r="0.6" fill="#8884bd"/>
<path d="M118.00,642.96V646.04M117.00,642.96h2M117.00,646.04h2" stroke="#8884bd" stroke-width="0.7" fill="none"/>
<circle cx="118.00" cy="644.50" r="0.6" fill="#8884bd"/>
<path d="M127.75,644.88V647.96M126.75,644.88h2M126.75,647.96h2" stroke="#8884bd" stroke-width="0.7" fill="none"/>
<circle cx="127.75" cy="646.42" r="0.6" fill="#8884bd"/>
<path d="M137.50,646.81V649.88M136.50,646.81h2M136.50,649.88h2" stroke="#8884bd" stroke-width="0.7" fill="none"/>
<circle cx="137.50" cy="648.35" r="0.6" fill="#8884bd"/>
<path d="M69.23,597.82 L70.63,598.40 L72.02,598.98 L73.41,599.58 L74.81,600.18 L76.20,600.80 L77.59,601.43 L78.99,602.07 L80.38,602.72 L81.77,603.39 L83.17,604.07 L84.56,604.76 L85.95,605.46 L87.34,606.17 L88.74,606.90 L90.13,607.65 L91.52,608.40 L92.92,609.17 L94.31,609.96 L95.70,610.75 L97.10,611.57 L98.49,612.40 L99.88,613.24 L101.28,614.10 L102.67,614.98 L104.06,615.87 L105.46,616.78 L106.85,617.70 L108.24,618.64 L109.64,619.60 L111.03,620.58 L112.42,621.58 L113.82,622.59 L115.21,623.62 L116.60,624.68 L118.00,625.75 L119.39,626.84 L120.78,627.95 L122.17,629.08 L123.57,630.24 L124.96,631.41 L126.35,632.61 L127.75,633.83 L129.14,635.07 L130.53,636.33 L131.93,637.62 L133.32,638.93 L134.71,640.27 L136.11,641.63 L137.50,643.01" fill="none" stroke="#363e45" stroke-width="0.9"/>
<path d="M69.23,596.23V599.31M68.23,596.23h2M68.23,599.31h2" stroke="#363e45" stroke-width="0.7" fill="none"/>
<circle cx="69.23" cy="597.77" r="1.0" fill="#363e45"/>
<path d="M78.99,600.27V604.12M77.99,600.27h2M77.99,604.12h2" stroke="#363e45" stroke-width="0.7" fill="none"/>
<circle cx="78.99" cy="602.19" r="1.0" fill="#363e45"/>
<path d="M88.74,605.65V607.58M87.74,605.65h2M87.74,607.58h2" stroke="#363e45" stroke-width="0.7" fill="none"/>
<circle cx="88.74" cy="606.62" r="1.0" fill="#363e45"/>
<path d="M98.49,610.85V614.69M97.49,610.85h2M97.49,614.69h2" stroke="#363e45" stroke-width="0.7" fill="none"/>
<circle cx="98.49" cy="612.77" r="1.0" fill="#363e45"/>
<path d="M108.24,616.62V620.46M107.24,616.62h2M107.24,620.46h2" stroke="#363e45" stroke-width="0.7" fill="none"/>
<circle cx="108.24" cy="618.54" r="1.0" fill="#363e45"/>
<path d="M118.00,624.31V627.38M117.00,624.31h2M117.00,627.38h2" stroke="#363e45" stroke-width="0.7" fill="none"/>
<circle cx="118.00" cy="625.85" r="1.0" fill="#363e45"/>
<path d="M127.75,632.00V635.08M126.75,632.00h2M126.75,635.08h2" stroke="#363e45" stroke-width="0.7" fill="none"/>
<circle cx="127.75" cy="633.54" r="1.0" fill="#363e45"/>
<path d="M137.50,641.62V644.69M136.50,641.62h2M136.50,644.69h2" stroke="#363e45" stroke-width="0.7" fill="none"/>
<circle cx="137.50" cy="643.15" r="1.0" fill="#363e45"/>
<path d="M69.23,597.13 L70.63,598.76 L72.02,600.42 L73.41,602.09 L74.81,603.77 L76.20,605.47 L77.59,607.16 L78.99,608.85 L80.38,610.53 L81.77,612.21 L83.17,613.86 L84.56,615.50 L85.95,617.11 L87.34,618.69 L88.74,620.24 L90.13,621.75 L91.52,623.22 L92.92,624.65 L94.31,626.04 L95.70,627.38 L97.10,628.68 L98.49,629.92 L99.88,631.12 L101.28,632.27 L102.67,633.37 L104.06,634.42 L105.46,635.42 L106.85,636.38 L108.24,637.28 L109.64,638.14 L111.03,638.96 L112.42,639.73 L113.82,640.46 L115.21,641.15 L116.60,641.80 L118.00,642.41 L119.39,642.98 L120.78,643.52 L122.17,644.03 L123.57,644.51 L124.96,644.95 L126.35,645.37 L127.75,645.76 L129.14,646.13 L130.53,646.47 L131.93,646.79 L133.32,647.09 L134.71,647.37 L136.11,647.63 L137.50,647.87" fill="none" stroke="#c02a7c" stroke-width="1.1"/>
<path d="M69.23,596.23V599.31M68.23,596.23h2M68.23,599.31h2" stroke="#c02a7c" stroke-width="0.7" fill="none"/>
<circle cx="69.23" cy="597.77" r="1.1" fill="#c02a7c"/>
<path d="M78.99,604.12V609.88M77.99,604.12h2M77.99,609.88h2" stroke="#c02a7c" stroke-width="0.7" fill="none"/>
<circle cx="78.99" cy="607.00" r="1.1" fill="#c02a7c"/>
<path d="M88.74,619.50V623.35M87.74,619.50h2M87.74,623.35h2" stroke="#c02a7c" stroke-width="0.7" fill="none"/>
<circle cx="88.74" cy="621.42" r="1.1" fill="#c02a7c"/>
<path d="M98.49,627.19V634.88M97.49,627.19h2M97.49,634.88h2" stroke="#c02a7c" stroke-width="0.7" fill="none"/>
<circle cx="98.49" cy="631.04" r="1.1" fill="#c02a7c"/>
<path d="M108.24,631.04V642.58M107.24,631.04h2M107.24,642.58h2" stroke="#c02a7c" stroke-width="0.7" fill="none"/>
<circle cx="108.24" cy="636.81" r="1.1" fill="#c02a7c"/>
<path d="M118.00,636.81V644.50M117.00,636.81h2M117.00,644.50h2" stroke="#c02a7c" stroke-width="0.7" fill="none"/>
<circle cx="118.00" cy="640.65" r="1.1" fill="#c02a7c"/>
<path d="M127.75,644.88V647.96M126.75,644.88h2M126.75,647.96h2" stroke="#c02a7c" stroke-width="0.7" fill="none"/>
<circle cx="127.75" cy="646.42" r="1.1" fill="#c02a7c"/>
<path d="M137.50,646.81V649.88M136.50,646.81h2M136.50,649.88h2" stroke="#c02a7c" stroke-width="0.7" fill="none"/>
<circle cx="137.50" cy="648.35" r="1.1" fill="#c02a7c"/>
<text x="281.06" y="551.1" text-anchor="middle" font-size="9.2" fill="#e4952f" stroke="#e4952f" stroke-width="0.15" textLength="124.7" lengthAdjust="spacing"><tspan>MM1.s</tspan><tspan dy="-3.4" font-size="6.6">WT/WT</tspan><tspan dy="3.4"> vs MM1.s</tspan><tspan dy="-3.4" font-size="6.6">WT/F381S</tspan></text>
<text x="281.06" y="561.8" text-anchor="middle" font-size="9.2" fill="#e4952f" stroke="#e4952f" stroke-width="0.15" textLength="98.9" lengthAdjust="spacing"><tspan>vs MM1.s</tspan><tspan dy="-3.4" font-size="6.6">CRBNKO</tspan><tspan dy="3.4">+F381S</tspan></text>
<text x="281.06" y="572.6" text-anchor="middle" font-size="9.2" fill="#e4952f" stroke="#e4952f" stroke-width="0.15" textLength="56.8" lengthAdjust="spacing"><tspan>Mezigdomide</tspan></text>
<line x1="222.12" y1="673.5" x2="339.83" y2="673.5" stroke="#1e1e1e" stroke-width="1.2"/>
<line x1="304.6" y1="579.1" x2="304.6" y2="674.1" stroke="#1e1e1e" stroke-width="1.2"/>
<line x1="225.6" y1="673.5" x2="225.6" y2="676.5" stroke="#1e1e1e" stroke-width="1.1"/>
<text x="225" y="685.8" text-anchor="middle" font-size="6.4" fill="#2a2a2a" class="k2">−5</text>
<line x1="241.4" y1="673.5" x2="241.4" y2="676.5" stroke="#1e1e1e" stroke-width="1.1"/>
<text x="240.8" y="685.8" text-anchor="middle" font-size="6.4" fill="#2a2a2a" class="k2">−4</text>
<line x1="257.2" y1="673.5" x2="257.2" y2="676.5" stroke="#1e1e1e" stroke-width="1.1"/>
<text x="256.6" y="685.8" text-anchor="middle" font-size="6.4" fill="#2a2a2a" class="k2">−3</text>
<line x1="273" y1="673.5" x2="273" y2="676.5" stroke="#1e1e1e" stroke-width="1.1"/>
<text x="272.4" y="685.8" text-anchor="middle" font-size="6.4" fill="#2a2a2a" class="k2">−2</text>
<line x1="288.8" y1="673.5" x2="288.8" y2="676.5" stroke="#1e1e1e" stroke-width="1.1"/>
<text x="288.2" y="685.8" text-anchor="middle" font-size="6.4" fill="#2a2a2a" class="k2">−1</text>
<line x1="304.6" y1="673.5" x2="304.6" y2="676.5" stroke="#1e1e1e" stroke-width="1.1"/>
<text x="304.6" y="685.8" text-anchor="middle" font-size="6.4" fill="#2a2a2a" class="k2">0</text>
<line x1="320.4" y1="673.5" x2="320.4" y2="676.5" stroke="#1e1e1e" stroke-width="1.1"/>
<text x="320.4" y="685.8" text-anchor="middle" font-size="6.4" fill="#2a2a2a" class="k2">1</text>
<line x1="336.2" y1="673.5" x2="336.2" y2="676.5" stroke="#1e1e1e" stroke-width="1.1"/>
<text x="336.2" y="685.8" text-anchor="middle" font-size="6.4" fill="#2a2a2a" class="k2">2</text>
<line x1="301.6" y1="658.25" x2="304.6" y2="658.25" stroke="#1e1e1e" stroke-width="1.1"/>
<text x="298.4" y="660.65" text-anchor="end" font-size="6.5" fill="#2a2a2a" class="k2">20</text>
<line x1="301.6" y1="643" x2="304.6" y2="643" stroke="#1e1e1e" stroke-width="1.1"/>
<text x="298.4" y="645.4" text-anchor="end" font-size="6.5" fill="#2a2a2a" class="k2">40</text>
<line x1="301.6" y1="627.75" x2="304.6" y2="627.75" stroke="#1e1e1e" stroke-width="1.1"/>
<text x="298.4" y="630.15" text-anchor="end" font-size="6.5" fill="#2a2a2a" class="k2">60</text>
<line x1="301.6" y1="612.5" x2="304.6" y2="612.5" stroke="#1e1e1e" stroke-width="1.1"/>
<text x="298.4" y="614.9" text-anchor="end" font-size="6.5" fill="#2a2a2a" class="k2">80</text>
<line x1="301.6" y1="597.25" x2="304.6" y2="597.25" stroke="#1e1e1e" stroke-width="1.1"/>
<text x="298.4" y="599.65" text-anchor="end" font-size="6.5" fill="#2a2a2a" class="k2">100</text>
<line x1="301.6" y1="582" x2="304.6" y2="582" stroke="#1e1e1e" stroke-width="1.1"/>
<text x="298.4" y="584.4" text-anchor="end" font-size="6.5" fill="#2a2a2a" class="k2">120</text>
<text x="280.98" y="698.9" text-anchor="middle" font-size="10" fill="#2a2a2a" class="k" textLength="23.5" lengthAdjust="spacingAndGlyphs">Log uM</text>
<line x1="192.3" y1="643.6" x2="199.3" y2="643.6" stroke="#a7a2c8" stroke-width="0.85"/>
<text x="202.8" y="646" font-size="7" fill="#2a2a2a" class="k2">MM1.s<tspan dy="-3.3" font-size="4.5" style="stroke-width:0">WT/WT</tspan></text>
<line x1="192.3" y1="654.4" x2="199.3" y2="654.4" stroke="#c02a7c" stroke-width="0.85"/>
<circle cx="195.8" cy="654.4" r="1" fill="#c02a7c"/>
<text x="202.8" y="656.8" font-size="7" fill="#2a2a2a" class="k2">MM1.s<tspan dy="-3.3" font-size="4.5" style="stroke-width:0">WT/F381S</tspan></text>
<line x1="192.3" y1="665" x2="199.3" y2="665" stroke="#363e45" stroke-width="0.85"/>
<circle cx="195.8" cy="665" r="1" fill="#363e45"/>
<text x="202.8" y="667.4" font-size="7" fill="#2a2a2a" class="k2">MM1.s<tspan dy="-3.3" font-size="4.5" style="stroke-width:0">CRBNKO</tspan><tspan dy="3.3">+p.F381S</tspan></text>
<path d="M238.02,604.10 L239.38,606.17 L240.74,608.20 L242.10,610.19 L243.45,612.14 L244.81,614.04 L246.17,615.90 L247.53,617.70 L248.89,619.45 L250.25,621.14 L251.61,622.76 L252.97,624.33 L254.32,625.84 L255.68,627.28 L257.04,628.66 L258.40,629.98 L259.76,631.24 L261.12,632.43 L262.48,633.57 L263.84,634.64 L265.19,635.67 L266.55,636.63 L267.91,637.54 L269.27,638.40 L270.63,639.22 L271.99,639.98 L273.35,640.70 L274.71,641.37 L276.07,642.01 L277.42,642.60 L278.78,643.16 L280.14,643.68 L281.50,644.17 L282.86,644.62 L284.22,645.05 L285.58,645.45 L286.94,645.82 L288.29,646.17 L289.65,646.49 L291.01,646.79 L292.37,647.07 L293.73,647.34 L295.09,647.58 L296.45,647.81 L297.81,648.02 L299.16,648.21 L300.52,648.40 L301.88,648.57 L303.24,648.72 L304.60,648.87" fill="none" stroke="#8884bd" stroke-width="0.9"/>
<path d="M238.02,602.19V606.04M237.02,602.19h2M237.02,606.04h2" stroke="#8884bd" stroke-width="0.7" fill="none"/>
<circle cx="238.02" cy="604.12" r="0.6" fill="#8884bd"/>
<path d="M247.53,609.88V625.27M246.53,609.88h2M246.53,625.27h2" stroke="#8884bd" stroke-width="0.7" fill="none"/>
<circle cx="247.53" cy="617.58" r="0.6" fill="#8884bd"/>
<path d="M257.04,625.27V632.96M256.04,625.27h2M256.04,632.96h2" stroke="#8884bd" stroke-width="0.7" fill="none"/>
<circle cx="257.04" cy="629.12" r="0.6" fill="#8884bd"/>
<path d="M266.55,633.92V637.77M265.55,633.92h2M265.55,637.77h2" stroke="#8884bd" stroke-width="0.7" fill="none"/>
<circle cx="266.55" cy="635.85" r="0.6" fill="#8884bd"/>
<path d="M276.07,641.04V644.12M275.07,641.04h2M275.07,644.12h2" stroke="#8884bd" stroke-width="0.7" fill="none"/>
<circle cx="276.07" cy="642.58" r="0.6" fill="#8884bd"/>
<path d="M285.58,643.92V647.00M284.58,643.92h2M284.58,647.00h2" stroke="#8884bd" stroke-width="0.7" fill="none"/>
<circle cx="285.58" cy="645.46" r="0.6" fill="#8884bd"/>
<path d="M295.09,645.85V648.92M294.09,645.85h2M294.09,648.92h2" stroke="#8884bd" stroke-width="0.7" fill="none"/>
<circle cx="295.09" cy="647.38" r="0.6" fill="#8884bd"/>
<path d="M304.60,647.38V650.46M303.60,647.38h2M303.60,650.46h2" stroke="#8884bd" stroke-width="0.7" fill="none"/>
<circle cx="304.60" cy="648.92" r="0.6" fill="#8884bd"/>
<path d="M238.02,601.42 L239.38,601.58 L240.74,601.76 L242.10,601.96 L243.45,602.17 L244.81,602.41 L246.17,602.67 L247.53,602.96 L248.89,603.27 L250.25,603.61 L251.61,603.98 L252.97,604.39 L254.32,604.83 L255.68,605.30 L257.04,605.82 L258.40,606.38 L259.76,606.98 L261.12,607.63 L262.48,608.32 L263.84,609.07 L265.19,609.86 L266.55,610.70 L267.91,611.59 L269.27,612.53 L270.63,613.52 L271.99,614.55 L273.35,615.62 L274.71,616.74 L276.07,617.89 L277.42,619.07 L278.78,620.27 L280.14,621.50 L281.50,622.74 L282.86,623.99 L284.22,625.23 L285.58,626.47 L286.94,627.70 L288.29,628.91 L289.65,630.10 L291.01,631.26 L292.37,632.38 L293.73,633.46 L295.09,634.50 L296.45,635.50 L297.81,636.45 L299.16,637.35 L300.52,638.20 L301.88,639.01 L303.24,639.76 L304.60,640.47" fill="none" stroke="#363e45" stroke-width="0.9"/>
<path d="M238.02,599.69V602.77M237.02,599.69h2M237.02,602.77h2" stroke="#363e45" stroke-width="0.7" fill="none"/>
<circle cx="238.02" cy="601.23" r="1.0" fill="#363e45"/>
<path d="M247.53,598.35V607.96M246.53,598.35h2M246.53,607.96h2" stroke="#363e45" stroke-width="0.7" fill="none"/>
<circle cx="247.53" cy="603.15" r="1.0" fill="#363e45"/>
<path d="M257.04,601.23V610.85M256.04,601.23h2M256.04,610.85h2" stroke="#363e45" stroke-width="0.7" fill="none"/>
<circle cx="257.04" cy="606.04" r="1.0" fill="#363e45"/>
<path d="M266.55,608.92V612.00M265.55,608.92h2M265.55,612.00h2" stroke="#363e45" stroke-width="0.7" fill="none"/>
<circle cx="266.55" cy="610.46" r="1.0" fill="#363e45"/>
<path d="M276.07,616.62V618.54M275.07,616.62h2M275.07,618.54h2" stroke="#363e45" stroke-width="0.7" fill="none"/>
<circle cx="276.07" cy="617.58" r="1.0" fill="#363e45"/>
<path d="M285.58,625.27V629.12M284.58,625.27h2M284.58,629.12h2" stroke="#363e45" stroke-width="0.7" fill="none"/>
<circle cx="285.58" cy="627.19" r="1.0" fill="#363e45"/>
<path d="M295.09,631.04V636.81M294.09,631.04h2M294.09,636.81h2" stroke="#363e45" stroke-width="0.7" fill="none"/>
<circle cx="295.09" cy="633.92" r="1.0" fill="#363e45"/>
<path d="M304.60,638.73V642.58M303.60,638.73h2M303.60,642.58h2" stroke="#363e45" stroke-width="0.7" fill="none"/>
<circle cx="304.60" cy="640.65" r="1.0" fill="#363e45"/>
<path d="M238.02,598.82 L239.38,601.01 L240.74,603.11 L242.10,605.11 L243.45,607.03 L244.81,608.87 L246.17,610.63 L247.53,612.32 L248.89,613.93 L250.25,615.48 L251.61,616.96 L252.97,618.37 L254.32,619.73 L255.68,621.03 L257.04,622.27 L258.40,623.46 L259.76,624.61 L261.12,625.70 L262.48,626.74 L263.84,627.75 L265.19,628.70 L266.55,629.62 L267.91,630.50 L269.27,631.34 L270.63,632.15 L271.99,632.92 L273.35,633.66 L274.71,634.37 L276.07,635.05 L277.42,635.69 L278.78,636.32 L280.14,636.91 L281.50,637.48 L282.86,638.02 L284.22,638.55 L285.58,639.05 L286.94,639.53 L288.29,639.98 L289.65,640.42 L291.01,640.84 L292.37,641.25 L293.73,641.63 L295.09,642.00 L296.45,642.35 L297.81,642.69 L299.16,643.02 L300.52,643.33 L301.88,643.62 L303.24,643.91 L304.60,644.18" fill="none" stroke="#c02a7c" stroke-width="1.1"/>
<path d="M238.02,596.42V600.27M237.02,596.42h2M237.02,600.27h2" stroke="#c02a7c" stroke-width="0.7" fill="none"/>
<circle cx="238.02" cy="598.35" r="1.1" fill="#c02a7c"/>
<path d="M247.53,609.88V615.65M246.53,609.88h2M246.53,615.65h2" stroke="#c02a7c" stroke-width="0.7" fill="none"/>
<circle cx="247.53" cy="612.77" r="1.1" fill="#c02a7c"/>
<path d="M257.04,617.58V629.12M256.04,617.58h2M256.04,629.12h2" stroke="#c02a7c" stroke-width="0.7" fill="none"/>
<circle cx="257.04" cy="623.35" r="1.1" fill="#c02a7c"/>
<path d="M266.55,625.27V632.96M265.55,625.27h2M265.55,632.96h2" stroke="#c02a7c" stroke-width="0.7" fill="none"/>
<circle cx="266.55" cy="629.12" r="1.1" fill="#c02a7c"/>
<path d="M276.07,632.96V636.81M275.07,632.96h2M275.07,636.81h2" stroke="#c02a7c" stroke-width="0.7" fill="none"/>
<circle cx="276.07" cy="634.88" r="1.1" fill="#c02a7c"/>
<path d="M285.58,636.23V639.31M284.58,636.23h2M284.58,639.31h2" stroke="#c02a7c" stroke-width="0.7" fill="none"/>
<circle cx="285.58" cy="637.77" r="1.1" fill="#c02a7c"/>
<path d="M295.09,640.08V643.15M294.09,640.08h2M294.09,643.15h2" stroke="#c02a7c" stroke-width="0.7" fill="none"/>
<circle cx="295.09" cy="641.62" r="1.1" fill="#c02a7c"/>
<path d="M304.60,643.92V647.00M303.60,643.92h2M303.60,647.00h2" stroke="#c02a7c" stroke-width="0.7" fill="none"/>
<circle cx="304.60" cy="645.46" r="1.1" fill="#c02a7c"/>
<text x="450.09" y="551.1" text-anchor="middle" font-size="9.2" fill="#c0243f" stroke="#c0243f" stroke-width="0.15" textLength="125.8" lengthAdjust="spacing"><tspan>MM1.s</tspan><tspan dy="-3.4" font-size="6.6">WT/WT</tspan><tspan dy="3.4"> vs MM1.s</tspan><tspan dy="-3.4" font-size="6.6">WT/H397Y</tspan></text>
<text x="450.09" y="561.8" text-anchor="middle" font-size="9.2" fill="#c0243f" stroke="#c0243f" stroke-width="0.15" textLength="100.8" lengthAdjust="spacing"><tspan>vs MM1.s</tspan><tspan dy="-3.4" font-size="6.6">CRBNKO</tspan><tspan dy="3.4">+H397Y</tspan></text>
<text x="450.09" y="572.6" text-anchor="middle" font-size="9.2" fill="#c0243f" stroke="#c0243f" stroke-width="0.15" textLength="56.8" lengthAdjust="spacing"><tspan>Mezigdomide</tspan></text>
<line x1="389.48" y1="673.6" x2="510.54" y2="673.6" stroke="#1e1e1e" stroke-width="1.2"/>
<line x1="474.3" y1="578.89" x2="474.3" y2="674.2" stroke="#1e1e1e" stroke-width="1.2"/>
<line x1="393.05" y1="673.6" x2="393.05" y2="676.6" stroke="#1e1e1e" stroke-width="1.1"/>
<text x="392.45" y="685.9" text-anchor="middle" font-size="6.4" fill="#2a2a2a" class="k2">−5</text>
<line x1="409.3" y1="673.6" x2="409.3" y2="676.6" stroke="#1e1e1e" stroke-width="1.1"/>
<text x="408.7" y="685.9" text-anchor="middle" font-size="6.4" fill="#2a2a2a" class="k2">−4</text>
<line x1="425.55" y1="673.6" x2="425.55" y2="676.6" stroke="#1e1e1e" stroke-width="1.1"/>
<text x="424.95" y="685.9" text-anchor="middle" font-size="6.4" fill="#2a2a2a" class="k2">−3</text>
<line x1="441.8" y1="673.6" x2="441.8" y2="676.6" stroke="#1e1e1e" stroke-width="1.1"/>
<text x="441.2" y="685.9" text-anchor="middle" font-size="6.4" fill="#2a2a2a" class="k2">−2</text>
<line x1="458.05" y1="673.6" x2="458.05" y2="676.6" stroke="#1e1e1e" stroke-width="1.1"/>
<text x="457.45" y="685.9" text-anchor="middle" font-size="6.4" fill="#2a2a2a" class="k2">−1</text>
<line x1="474.3" y1="673.6" x2="474.3" y2="676.6" stroke="#1e1e1e" stroke-width="1.1"/>
<text x="474.3" y="685.9" text-anchor="middle" font-size="6.4" fill="#2a2a2a" class="k2">0</text>
<line x1="490.55" y1="673.6" x2="490.55" y2="676.6" stroke="#1e1e1e" stroke-width="1.1"/>
<text x="490.55" y="685.9" text-anchor="middle" font-size="6.4" fill="#2a2a2a" class="k2">1</text>
<line x1="506.8" y1="673.6" x2="506.8" y2="676.6" stroke="#1e1e1e" stroke-width="1.1"/>
<text x="506.8" y="685.9" text-anchor="middle" font-size="6.4" fill="#2a2a2a" class="k2">2</text>
<line x1="471.3" y1="658.3" x2="474.3" y2="658.3" stroke="#1e1e1e" stroke-width="1.1"/>
<text x="468.1" y="660.7" text-anchor="end" font-size="6.5" fill="#2a2a2a" class="k2">20</text>
<line x1="471.3" y1="643" x2="474.3" y2="643" stroke="#1e1e1e" stroke-width="1.1"/>
<text x="468.1" y="645.4" text-anchor="end" font-size="6.5" fill="#2a2a2a" class="k2">40</text>
<line x1="471.3" y1="627.7" x2="474.3" y2="627.7" stroke="#1e1e1e" stroke-width="1.1"/>
<text x="468.1" y="630.1" text-anchor="end" font-size="6.5" fill="#2a2a2a" class="k2">60</text>
<line x1="471.3" y1="612.4" x2="474.3" y2="612.4" stroke="#1e1e1e" stroke-width="1.1"/>
<text x="468.1" y="614.8" text-anchor="end" font-size="6.5" fill="#2a2a2a" class="k2">80</text>
<line x1="471.3" y1="597.1" x2="474.3" y2="597.1" stroke="#1e1e1e" stroke-width="1.1"/>
<text x="468.1" y="599.5" text-anchor="end" font-size="6.5" fill="#2a2a2a" class="k2">100</text>
<line x1="471.3" y1="581.8" x2="474.3" y2="581.8" stroke="#1e1e1e" stroke-width="1.1"/>
<text x="468.1" y="584.2" text-anchor="end" font-size="6.5" fill="#2a2a2a" class="k2">120</text>
<text x="450.01" y="699" text-anchor="middle" font-size="10" fill="#2a2a2a" class="k" textLength="23.5" lengthAdjust="spacingAndGlyphs">Log uM</text>
<line x1="360.6" y1="643.7" x2="367.6" y2="643.7" stroke="#a7a2c8" stroke-width="0.85"/>
<text x="370.9" y="646.1" font-size="7" fill="#2a2a2a" class="k2">MM1.s<tspan dy="-3.3" font-size="4.5" style="stroke-width:0">WT/WT</tspan></text>
<line x1="360.6" y1="654.5" x2="367.6" y2="654.5" stroke="#c02a7c" stroke-width="0.85"/>
<circle cx="364.1" cy="654.5" r="1" fill="#c02a7c"/>
<text x="370.9" y="656.9" font-size="7" fill="#2a2a2a" class="k2">MM1.s<tspan dy="-3.3" font-size="4.5" style="stroke-width:0">WT/H397Y</tspan></text>
<line x1="360.6" y1="665.1" x2="367.6" y2="665.1" stroke="#363e45" stroke-width="0.85"/>
<circle cx="364.1" cy="665.1" r="1" fill="#363e45"/>
<text x="370.9" y="667.5" font-size="7" fill="#2a2a2a" class="k2">MM1.s<tspan dy="-3.3" font-size="4.5" style="stroke-width:0">CRBNKO</tspan><tspan dy="3.3">+p.H397Y</tspan></text>
<path d="M405.82,603.53 L407.22,606.15 L408.62,608.61 L410.01,610.95 L411.41,613.16 L412.81,615.24 L414.21,617.22 L415.61,619.08 L417.00,620.85 L418.40,622.52 L419.80,624.09 L421.19,625.58 L422.59,626.99 L423.99,628.33 L425.39,629.59 L426.78,630.78 L428.18,631.91 L429.58,632.97 L430.98,633.98 L432.38,634.94 L433.77,635.84 L435.17,636.69 L436.57,637.49 L437.97,638.26 L439.36,638.98 L440.76,639.66 L442.16,640.30 L443.56,640.91 L444.95,641.49 L446.35,642.03 L447.75,642.54 L449.14,643.03 L450.54,643.49 L451.94,643.93 L453.34,644.34 L454.74,644.73 L456.13,645.10 L457.53,645.44 L458.93,645.77 L460.32,646.08 L461.72,646.38 L463.12,646.66 L464.52,646.92 L465.92,647.17 L467.31,647.40 L468.71,647.62 L470.11,647.83 L471.50,648.03 L472.90,648.22 L474.30,648.40" fill="none" stroke="#8884bd" stroke-width="0.9"/>
<path d="M405.82,600.27V604.12M404.82,600.27h2M404.82,604.12h2" stroke="#8884bd" stroke-width="0.7" fill="none"/>
<circle cx="405.82" cy="602.19" r="0.6" fill="#8884bd"/>
<path d="M415.61,615.08V629.69M414.61,615.08h2M414.61,629.69h2" stroke="#8884bd" stroke-width="0.7" fill="none"/>
<circle cx="415.61" cy="622.38" r="0.6" fill="#8884bd"/>
<path d="M425.39,624.31V633.92M424.39,624.31h2M424.39,633.92h2" stroke="#8884bd" stroke-width="0.7" fill="none"/>
<circle cx="425.39" cy="629.12" r="0.6" fill="#8884bd"/>
<path d="M435.17,632.38V636.23M434.17,632.38h2M434.17,636.23h2" stroke="#8884bd" stroke-width="0.7" fill="none"/>
<circle cx="435.17" cy="634.31" r="0.6" fill="#8884bd"/>
<path d="M444.95,640.08V643.15M443.95,640.08h2M443.95,643.15h2" stroke="#8884bd" stroke-width="0.7" fill="none"/>
<circle cx="444.95" cy="641.62" r="0.6" fill="#8884bd"/>
<path d="M454.74,642.96V646.04M453.74,642.96h2M453.74,646.04h2" stroke="#8884bd" stroke-width="0.7" fill="none"/>
<circle cx="454.74" cy="644.50" r="0.6" fill="#8884bd"/>
<path d="M464.52,645.46V648.54M463.52,645.46h2M463.52,648.54h2" stroke="#8884bd" stroke-width="0.7" fill="none"/>
<circle cx="464.52" cy="647.00" r="0.6" fill="#8884bd"/>
<path d="M474.30,647.77V650.85M473.30,647.77h2M473.30,650.85h2" stroke="#8884bd" stroke-width="0.7" fill="none"/>
<circle cx="474.30" cy="649.31" r="0.6" fill="#8884bd"/>
<path d="M405.82,598.79 L407.22,598.86 L408.62,598.93 L410.01,598.99 L411.41,599.04 L412.81,599.09 L414.21,599.14 L415.61,599.18 L417.00,599.22 L418.40,599.25 L419.80,599.28 L421.19,599.30 L422.59,599.32 L423.99,599.34 L425.39,599.35 L426.78,599.36 L428.18,599.36 L429.58,599.36 L430.98,599.35 L432.38,599.34 L433.77,599.32 L435.17,599.30 L436.57,599.28 L437.97,599.25 L439.36,599.22 L440.76,599.18 L442.16,599.14 L443.56,599.09 L444.95,599.04 L446.35,598.99 L447.75,598.93 L449.14,598.86 L450.54,598.80 L451.94,598.72 L453.34,598.65 L454.74,598.57 L456.13,598.48 L457.53,598.39 L458.93,598.30 L460.32,598.20 L461.72,598.09 L463.12,597.99 L464.52,597.87 L465.92,597.76 L467.31,597.64 L468.71,597.51 L470.11,597.38 L471.50,597.25 L472.90,597.11 L474.30,596.97" fill="none" stroke="#363e45" stroke-width="0.9"/>
<path d="M405.82,596.42V600.27M404.82,596.42h2M404.82,600.27h2" stroke="#363e45" stroke-width="0.7" fill="none"/>
<circle cx="405.82" cy="598.35" r="1.0" fill="#363e45"/>
<path d="M415.61,598.15V601.23M414.61,598.15h2M414.61,601.23h2" stroke="#363e45" stroke-width="0.7" fill="none"/>
<circle cx="415.61" cy="599.69" r="1.0" fill="#363e45"/>
<path d="M425.39,595.85V603.54M424.39,595.85h2M424.39,603.54h2" stroke="#363e45" stroke-width="0.7" fill="none"/>
<circle cx="425.39" cy="599.69" r="1.0" fill="#363e45"/>
<path d="M435.17,596.04V601.81M434.17,596.04h2M434.17,601.81h2" stroke="#363e45" stroke-width="0.7" fill="none"/>
<circle cx="435.17" cy="598.92" r="1.0" fill="#363e45"/>
<path d="M444.95,597.77V600.85M443.95,597.77h2M443.95,600.85h2" stroke="#363e45" stroke-width="0.7" fill="none"/>
<circle cx="444.95" cy="599.31" r="1.0" fill="#363e45"/>
<path d="M454.74,596.81V599.88M453.74,596.81h2M453.74,599.88h2" stroke="#363e45" stroke-width="0.7" fill="none"/>
<circle cx="454.74" cy="598.35" r="1.0" fill="#363e45"/>
<path d="M464.52,595.85V598.92M463.52,595.85h2M463.52,598.92h2" stroke="#363e45" stroke-width="0.7" fill="none"/>
<circle cx="464.52" cy="597.38" r="1.0" fill="#363e45"/>
<path d="M474.30,595.85V598.92M473.30,595.85h2M473.30,598.92h2" stroke="#363e45" stroke-width="0.7" fill="none"/>
<circle cx="474.30" cy="597.38" r="1.0" fill="#363e45"/>
<path d="M405.82,601.44 L407.22,602.87 L408.62,604.30 L410.01,605.71 L411.41,607.12 L412.81,608.52 L414.21,609.90 L415.61,611.27 L417.00,612.62 L418.40,613.94 L419.80,615.25 L421.19,616.52 L422.59,617.78 L423.99,619.00 L425.39,620.20 L426.78,621.37 L428.18,622.51 L429.58,623.62 L430.98,624.69 L432.38,625.74 L433.77,626.75 L435.17,627.73 L436.57,628.67 L437.97,629.58 L439.36,630.47 L440.76,631.31 L442.16,632.13 L443.56,632.91 L444.95,633.67 L446.35,634.39 L447.75,635.08 L449.14,635.74 L450.54,636.38 L451.94,636.99 L453.34,637.57 L454.74,638.12 L456.13,638.65 L457.53,639.15 L458.93,639.63 L460.32,640.09 L461.72,640.53 L463.12,640.94 L464.52,641.33 L465.92,641.71 L467.31,642.06 L468.71,642.40 L470.11,642.72 L471.50,643.03 L472.90,643.32 L474.30,643.59" fill="none" stroke="#c02a7c" stroke-width="1.1"/>
<path d="M405.82,599.31V603.15M404.82,599.31h2M404.82,603.15h2" stroke="#c02a7c" stroke-width="0.7" fill="none"/>
<circle cx="405.82" cy="601.23" r="1.1" fill="#c02a7c"/>
<path d="M415.61,608.92V614.69M414.61,608.92h2M414.61,614.69h2" stroke="#c02a7c" stroke-width="0.7" fill="none"/>
<circle cx="415.61" cy="611.81" r="1.1" fill="#c02a7c"/>
<path d="M425.39,616.23V623.92M424.39,616.23h2M424.39,623.92h2" stroke="#c02a7c" stroke-width="0.7" fill="none"/>
<circle cx="425.39" cy="620.08" r="1.1" fill="#c02a7c"/>
<path d="M435.17,622.96V631.42M434.17,622.96h2M434.17,631.42h2" stroke="#c02a7c" stroke-width="0.7" fill="none"/>
<circle cx="435.17" cy="627.19" r="1.1" fill="#c02a7c"/>
<path d="M444.95,630.65V636.42M443.95,630.65h2M443.95,636.42h2" stroke="#c02a7c" stroke-width="0.7" fill="none"/>
<circle cx="444.95" cy="633.54" r="1.1" fill="#c02a7c"/>
<path d="M454.74,637.19V640.27M453.74,637.19h2M453.74,640.27h2" stroke="#c02a7c" stroke-width="0.7" fill="none"/>
<circle cx="454.74" cy="638.73" r="1.1" fill="#c02a7c"/>
<path d="M464.52,640.08V643.15M463.52,640.08h2M463.52,643.15h2" stroke="#c02a7c" stroke-width="0.7" fill="none"/>
<circle cx="464.52" cy="641.62" r="1.1" fill="#c02a7c"/>
<path d="M474.30,641.62V644.69M473.30,641.62h2M473.30,644.69h2" stroke="#c02a7c" stroke-width="0.7" fill="none"/>
<circle cx="474.30" cy="643.15" r="1.1" fill="#c02a7c"/>
</g></svg>
</body></html>
